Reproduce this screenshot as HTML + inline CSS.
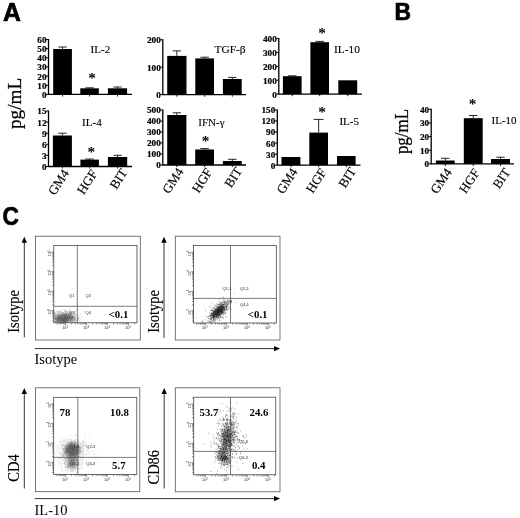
<!DOCTYPE html>
<html><head><meta charset="utf-8"><title>Figure</title>
<style>html,body{margin:0;padding:0;background:#fff}svg{display:block}</style></head><body>
<svg width="520" height="518" viewBox="0 0 520 518">
<rect width="520" height="518" fill="#fff"/>
<defs><filter id="bl" x="-5%" y="-5%" width="110%" height="110%"><feGaussianBlur stdDeviation="0.3"/></filter><filter id="b2" x="-50%" y="-50%" width="200%" height="200%"><feGaussianBlur stdDeviation="1.6"/></filter></defs>
<text transform="translate(3.0 20.5) scale(1.01 1.03)" font-family='"Liberation Sans", sans-serif' font-weight="bold" font-size="24.6" stroke="#000" stroke-width="0.7" stroke-linejoin="round">A</text>
<text transform="translate(394.45 20.45) scale(0.93 1.01)" font-family='"Liberation Sans", sans-serif' font-weight="bold" font-size="24.6" stroke="#000" stroke-width="0.7" stroke-linejoin="round">B</text>
<text transform="translate(2.4 225.2) scale(0.92 1.04)" font-family='"Liberation Sans", sans-serif' font-weight="bold" font-size="24.6" stroke="#000" stroke-width="0.7" stroke-linejoin="round">C</text>
<text transform="translate(20.5 103.4) rotate(-90)" text-anchor="middle" font-family='"Liberation Serif", serif' font-size="19.2" stroke="#000" stroke-width="0.25">pg/mL</text>
<text transform="translate(408.2 131.5) rotate(-90) scale(0.88 1)" text-anchor="middle" font-family='"Liberation Serif", serif' font-size="19.3" stroke="#000" stroke-width="0.25">pg/mL</text>
<path d="M48.5 39V94.4H132" fill="none" stroke="#000" stroke-width="1.3"/>
<path d="M46 94.4H48.5" stroke="#000" stroke-width="1"/>
<text x="46.5" y="97.8" text-anchor="end" font-family='"Liberation Serif", serif' font-weight="bold" font-size="9.2" stroke="#000" stroke-width="0.2">0</text>
<path d="M46 85.25H48.5" stroke="#000" stroke-width="1"/>
<text x="46.5" y="88.65" text-anchor="end" font-family='"Liberation Serif", serif' font-weight="bold" font-size="9.2" stroke="#000" stroke-width="0.2">10</text>
<path d="M46 76.1H48.5" stroke="#000" stroke-width="1"/>
<text x="46.5" y="79.5" text-anchor="end" font-family='"Liberation Serif", serif' font-weight="bold" font-size="9.2" stroke="#000" stroke-width="0.2">20</text>
<path d="M46 66.95H48.5" stroke="#000" stroke-width="1"/>
<text x="46.5" y="70.35" text-anchor="end" font-family='"Liberation Serif", serif' font-weight="bold" font-size="9.2" stroke="#000" stroke-width="0.2">30</text>
<path d="M46 57.8H48.5" stroke="#000" stroke-width="1"/>
<text x="46.5" y="61.2" text-anchor="end" font-family='"Liberation Serif", serif' font-weight="bold" font-size="9.2" stroke="#000" stroke-width="0.2">40</text>
<path d="M46 48.65H48.5" stroke="#000" stroke-width="1"/>
<text x="46.5" y="52.05" text-anchor="end" font-family='"Liberation Serif", serif' font-weight="bold" font-size="9.2" stroke="#000" stroke-width="0.2">50</text>
<path d="M46 39.5H48.5" stroke="#000" stroke-width="1"/>
<text x="46.5" y="42.9" text-anchor="end" font-family='"Liberation Serif", serif' font-weight="bold" font-size="9.2" stroke="#000" stroke-width="0.2">60</text>
<rect x="53.2" y="49" width="18.7" height="45.4" fill="#000"/>
<path d="M62.55 49V47M58.35 47H66.75" stroke="#000" stroke-width="0.85" fill="none"/>
<path d="M62.55 94.4V96.5" stroke="#000" stroke-width="0.9"/>
<rect x="80.3" y="88.3" width="18.5" height="6.1" fill="#000"/>
<path d="M89.55 88.3V87.8M85.35 87.8H93.75" stroke="#000" stroke-width="0.85" fill="none"/>
<path d="M89.55 94.4V96.5" stroke="#000" stroke-width="0.9"/>
<rect x="107.9" y="88.3" width="19.2" height="6.1" fill="#000"/>
<path d="M117.5 88.3V87M113.3 87H121.7" stroke="#000" stroke-width="0.85" fill="none"/>
<path d="M117.5 94.4V96.5" stroke="#000" stroke-width="0.9"/>
<text x="90.6" y="52.7" font-family='"Liberation Serif", serif' font-size="11.1" stroke="#000" stroke-width="0.12">IL-2</text>
<text x="92.2" y="82.9" text-anchor="middle" font-family='"Liberation Serif", serif' font-weight="bold" font-size="15.3">*</text>
<path d="M48.5 110.5V166.5H132" fill="none" stroke="#000" stroke-width="1.3"/>
<path d="M46 166.5H48.5" stroke="#000" stroke-width="1"/>
<text x="46.5" y="169.9" text-anchor="end" font-family='"Liberation Serif", serif' font-weight="bold" font-size="9.2" stroke="#000" stroke-width="0.2">0</text>
<path d="M46 155.4H48.5" stroke="#000" stroke-width="1"/>
<text x="46.5" y="158.8" text-anchor="end" font-family='"Liberation Serif", serif' font-weight="bold" font-size="9.2" stroke="#000" stroke-width="0.2">3</text>
<path d="M46 144.3H48.5" stroke="#000" stroke-width="1"/>
<text x="46.5" y="147.7" text-anchor="end" font-family='"Liberation Serif", serif' font-weight="bold" font-size="9.2" stroke="#000" stroke-width="0.2">6</text>
<path d="M46 133.2H48.5" stroke="#000" stroke-width="1"/>
<text x="46.5" y="136.6" text-anchor="end" font-family='"Liberation Serif", serif' font-weight="bold" font-size="9.2" stroke="#000" stroke-width="0.2">9</text>
<path d="M46 122.1H48.5" stroke="#000" stroke-width="1"/>
<text x="46.5" y="125.5" text-anchor="end" font-family='"Liberation Serif", serif' font-weight="bold" font-size="9.2" stroke="#000" stroke-width="0.2">12</text>
<path d="M46 111H48.5" stroke="#000" stroke-width="1"/>
<text x="46.5" y="114.4" text-anchor="end" font-family='"Liberation Serif", serif' font-weight="bold" font-size="9.2" stroke="#000" stroke-width="0.2">15</text>
<rect x="52.9" y="135.5" width="19" height="31" fill="#000"/>
<path d="M62.4 135.5V133.2M58.2 133.2H66.6" stroke="#000" stroke-width="0.85" fill="none"/>
<path d="M62.4 166.5V168.6" stroke="#000" stroke-width="0.9"/>
<rect x="80.4" y="159.6" width="18.5" height="6.9" fill="#000"/>
<path d="M89.65 159.6V159M85.45 159H93.85" stroke="#000" stroke-width="0.85" fill="none"/>
<path d="M89.65 166.5V168.6" stroke="#000" stroke-width="0.9"/>
<rect x="107.9" y="157" width="19.3" height="9.5" fill="#000"/>
<path d="M117.55 157V155.3M113.35 155.3H121.75" stroke="#000" stroke-width="0.85" fill="none"/>
<path d="M117.55 166.5V168.6" stroke="#000" stroke-width="0.9"/>
<text x="82" y="125.9" font-family='"Liberation Serif", serif' font-size="11.1" stroke="#000" stroke-width="0.12">IL-4</text>
<text x="91.3" y="156.9" text-anchor="middle" font-family='"Liberation Serif", serif' font-weight="bold" font-size="15.3">*</text>
<text transform="translate(69.6 173) rotate(-57)" text-anchor="end" font-family='"Liberation Serif", serif' font-size="13" stroke="#000" stroke-width="0.15">GM4</text>
<text transform="translate(97.85 173.4) rotate(-57)" text-anchor="end" font-family='"Liberation Serif", serif' font-size="13" stroke="#000" stroke-width="0.15">HGF</text>
<text transform="translate(127.85 172.4) rotate(-57)" text-anchor="end" font-family='"Liberation Serif", serif' font-size="13" stroke="#000" stroke-width="0.15">BIT</text>
<path d="M162.8 39.3V94.6H246" fill="none" stroke="#000" stroke-width="1.3"/>
<path d="M160.3 94.6H162.8" stroke="#000" stroke-width="1"/>
<text x="160.8" y="98" text-anchor="end" font-family='"Liberation Serif", serif' font-weight="bold" font-size="9.2" stroke="#000" stroke-width="0.2">0</text>
<path d="M160.3 67.2H162.8" stroke="#000" stroke-width="1"/>
<text x="160.8" y="70.6" text-anchor="end" font-family='"Liberation Serif", serif' font-weight="bold" font-size="9.2" stroke="#000" stroke-width="0.2">100</text>
<path d="M160.3 39.8H162.8" stroke="#000" stroke-width="1"/>
<text x="160.8" y="43.2" text-anchor="end" font-family='"Liberation Serif", serif' font-weight="bold" font-size="9.2" stroke="#000" stroke-width="0.2">200</text>
<rect x="167.2" y="55.9" width="19.3" height="38.7" fill="#000"/>
<path d="M176.85 55.9V50.9M172.65 50.9H181.05" stroke="#000" stroke-width="0.85" fill="none"/>
<path d="M176.85 94.6V96.7" stroke="#000" stroke-width="0.9"/>
<rect x="195.3" y="58.4" width="18.7" height="36.2" fill="#000"/>
<path d="M204.65 58.4V57.2M200.45 57.2H208.85" stroke="#000" stroke-width="0.85" fill="none"/>
<path d="M204.65 94.6V96.7" stroke="#000" stroke-width="0.9"/>
<rect x="222.9" y="79" width="18.8" height="15.6" fill="#000"/>
<path d="M232.3 79V77.4M228.1 77.4H236.5" stroke="#000" stroke-width="0.85" fill="none"/>
<path d="M232.3 94.6V96.7" stroke="#000" stroke-width="0.9"/>
<text x="214.5" y="53.1" font-family='"Liberation Serif", serif' font-size="11.4" stroke="#000" stroke-width="0.12">TGF-β</text>
<path d="M162.8 109.5V165H246" fill="none" stroke="#000" stroke-width="1.3"/>
<path d="M160.3 165H162.8" stroke="#000" stroke-width="1"/>
<text x="160.8" y="168.4" text-anchor="end" font-family='"Liberation Serif", serif' font-weight="bold" font-size="9.2" stroke="#000" stroke-width="0.2">0</text>
<path d="M160.3 154H162.8" stroke="#000" stroke-width="1"/>
<text x="160.8" y="157.4" text-anchor="end" font-family='"Liberation Serif", serif' font-weight="bold" font-size="9.2" stroke="#000" stroke-width="0.2">100</text>
<path d="M160.3 143H162.8" stroke="#000" stroke-width="1"/>
<text x="160.8" y="146.4" text-anchor="end" font-family='"Liberation Serif", serif' font-weight="bold" font-size="9.2" stroke="#000" stroke-width="0.2">200</text>
<path d="M160.3 132H162.8" stroke="#000" stroke-width="1"/>
<text x="160.8" y="135.4" text-anchor="end" font-family='"Liberation Serif", serif' font-weight="bold" font-size="9.2" stroke="#000" stroke-width="0.2">300</text>
<path d="M160.3 121H162.8" stroke="#000" stroke-width="1"/>
<text x="160.8" y="124.4" text-anchor="end" font-family='"Liberation Serif", serif' font-weight="bold" font-size="9.2" stroke="#000" stroke-width="0.2">400</text>
<path d="M160.3 110H162.8" stroke="#000" stroke-width="1"/>
<text x="160.8" y="113.4" text-anchor="end" font-family='"Liberation Serif", serif' font-weight="bold" font-size="9.2" stroke="#000" stroke-width="0.2">500</text>
<rect x="167.2" y="115" width="19.2" height="50" fill="#000"/>
<path d="M176.8 115V112.8M172.6 112.8H181" stroke="#000" stroke-width="0.85" fill="none"/>
<path d="M176.8 165V167.1" stroke="#000" stroke-width="0.9"/>
<rect x="195.2" y="149.5" width="18.8" height="15.5" fill="#000"/>
<path d="M204.6 149.5V148.6M200.4 148.6H208.8" stroke="#000" stroke-width="0.85" fill="none"/>
<path d="M204.6 165V167.1" stroke="#000" stroke-width="0.9"/>
<rect x="222.9" y="161" width="18.8" height="4" fill="#000"/>
<path d="M232.3 161V159.3M228.1 159.3H236.5" stroke="#000" stroke-width="0.85" fill="none"/>
<path d="M232.3 165V167.1" stroke="#000" stroke-width="0.9"/>
<text x="198.3" y="125.8" font-family='"Liberation Serif", serif' font-size="11" stroke="#000" stroke-width="0.12">IFN-γ</text>
<text x="205.6" y="145.5" text-anchor="middle" font-family='"Liberation Serif", serif' font-weight="bold" font-size="15.3">*</text>
<text transform="translate(184 171.5) rotate(-57)" text-anchor="end" font-family='"Liberation Serif", serif' font-size="13" stroke="#000" stroke-width="0.15">GM4</text>
<text transform="translate(212.8 171.9) rotate(-57)" text-anchor="end" font-family='"Liberation Serif", serif' font-size="13" stroke="#000" stroke-width="0.15">HGF</text>
<text transform="translate(242.6 170.9) rotate(-57)" text-anchor="end" font-family='"Liberation Serif", serif' font-size="13" stroke="#000" stroke-width="0.15">BIT</text>
<path d="M278.8 38.1V94.1H362" fill="none" stroke="#000" stroke-width="1.3"/>
<path d="M276.3 94.1H278.8" stroke="#000" stroke-width="1"/>
<text x="276.8" y="97.5" text-anchor="end" font-family='"Liberation Serif", serif' font-weight="bold" font-size="9.2" stroke="#000" stroke-width="0.2">0</text>
<path d="M276.3 80.22H278.8" stroke="#000" stroke-width="1"/>
<text x="276.8" y="83.62" text-anchor="end" font-family='"Liberation Serif", serif' font-weight="bold" font-size="9.2" stroke="#000" stroke-width="0.2">100</text>
<path d="M276.3 66.35H278.8" stroke="#000" stroke-width="1"/>
<text x="276.8" y="69.75" text-anchor="end" font-family='"Liberation Serif", serif' font-weight="bold" font-size="9.2" stroke="#000" stroke-width="0.2">200</text>
<path d="M276.3 52.48H278.8" stroke="#000" stroke-width="1"/>
<text x="276.8" y="55.88" text-anchor="end" font-family='"Liberation Serif", serif' font-weight="bold" font-size="9.2" stroke="#000" stroke-width="0.2">300</text>
<path d="M276.3 38.6H278.8" stroke="#000" stroke-width="1"/>
<text x="276.8" y="42" text-anchor="end" font-family='"Liberation Serif", serif' font-weight="bold" font-size="9.2" stroke="#000" stroke-width="0.2">400</text>
<rect x="282.9" y="76.2" width="18.7" height="17.9" fill="#000"/>
<path d="M292.25 76.2V75.8M288.05 75.8H296.45" stroke="#000" stroke-width="0.85" fill="none"/>
<path d="M292.25 94.1V96.2" stroke="#000" stroke-width="0.9"/>
<rect x="310.4" y="42.2" width="18.6" height="51.9" fill="#000"/>
<path d="M319.7 42.2V41.4M315.5 41.4H323.9" stroke="#000" stroke-width="0.85" fill="none"/>
<path d="M319.7 94.1V96.2" stroke="#000" stroke-width="0.9"/>
<rect x="338.3" y="80.3" width="18.9" height="13.8" fill="#000"/>
<path d="M347.75 94.1V96.2" stroke="#000" stroke-width="0.9"/>
<text x="334" y="52.9" font-family='"Liberation Serif", serif' font-size="11.4" stroke="#000" stroke-width="0.12">IL-10</text>
<text x="322.2" y="38.1" text-anchor="middle" font-family='"Liberation Serif", serif' font-weight="bold" font-size="15.3">*</text>
<path d="M277.3 109.5V165.2H360.5" fill="none" stroke="#000" stroke-width="1.3"/>
<path d="M274.8 165.2H277.3" stroke="#000" stroke-width="1"/>
<text x="275.3" y="168.6" text-anchor="end" font-family='"Liberation Serif", serif' font-weight="bold" font-size="9.2" stroke="#000" stroke-width="0.2">0</text>
<path d="M274.8 154.16H277.3" stroke="#000" stroke-width="1"/>
<text x="275.3" y="157.56" text-anchor="end" font-family='"Liberation Serif", serif' font-weight="bold" font-size="9.2" stroke="#000" stroke-width="0.2">30</text>
<path d="M274.8 143.12H277.3" stroke="#000" stroke-width="1"/>
<text x="275.3" y="146.52" text-anchor="end" font-family='"Liberation Serif", serif' font-weight="bold" font-size="9.2" stroke="#000" stroke-width="0.2">60</text>
<path d="M274.8 132.08H277.3" stroke="#000" stroke-width="1"/>
<text x="275.3" y="135.48" text-anchor="end" font-family='"Liberation Serif", serif' font-weight="bold" font-size="9.2" stroke="#000" stroke-width="0.2">90</text>
<path d="M274.8 121.04H277.3" stroke="#000" stroke-width="1"/>
<text x="275.3" y="124.44" text-anchor="end" font-family='"Liberation Serif", serif' font-weight="bold" font-size="9.2" stroke="#000" stroke-width="0.2">120</text>
<path d="M274.8 110H277.3" stroke="#000" stroke-width="1"/>
<text x="275.3" y="113.4" text-anchor="end" font-family='"Liberation Serif", serif' font-weight="bold" font-size="9.2" stroke="#000" stroke-width="0.2">150</text>
<rect x="281.5" y="157" width="18.9" height="8.2" fill="#000"/>
<path d="M290.95 165.2V167.3" stroke="#000" stroke-width="0.9"/>
<rect x="309.3" y="132.6" width="18.7" height="32.6" fill="#000"/>
<path d="M318.65 132.6V119.4M313.65 119.4H323.65" stroke="#000" stroke-width="0.85" fill="none"/>
<path d="M318.65 165.2V167.3" stroke="#000" stroke-width="0.9"/>
<rect x="337" y="156" width="18.6" height="9.2" fill="#000"/>
<path d="M346.3 165.2V167.3" stroke="#000" stroke-width="0.9"/>
<text x="339.4" y="125.1" font-family='"Liberation Serif", serif' font-size="11.1" stroke="#000" stroke-width="0.12">IL-5</text>
<text x="322" y="117.3" text-anchor="middle" font-family='"Liberation Serif", serif' font-weight="bold" font-size="15.3">*</text>
<text transform="translate(298.15 171.7) rotate(-57)" text-anchor="end" font-family='"Liberation Serif", serif' font-size="13" stroke="#000" stroke-width="0.15">GM4</text>
<text transform="translate(326.85 172.1) rotate(-57)" text-anchor="end" font-family='"Liberation Serif", serif' font-size="13" stroke="#000" stroke-width="0.15">HGF</text>
<text transform="translate(356.6 171.1) rotate(-57)" text-anchor="end" font-family='"Liberation Serif", serif' font-size="13" stroke="#000" stroke-width="0.15">BIT</text>
<path d="M431.2 108.8V163.9H514" fill="none" stroke="#000" stroke-width="1.3"/>
<path d="M428.7 163.9H431.2" stroke="#000" stroke-width="1"/>
<text x="429.2" y="167.3" text-anchor="end" font-family='"Liberation Serif", serif' font-weight="bold" font-size="9.2" stroke="#000" stroke-width="0.2">0</text>
<path d="M428.7 150.25H431.2" stroke="#000" stroke-width="1"/>
<text x="429.2" y="153.65" text-anchor="end" font-family='"Liberation Serif", serif' font-weight="bold" font-size="9.2" stroke="#000" stroke-width="0.2">10</text>
<path d="M428.7 136.6H431.2" stroke="#000" stroke-width="1"/>
<text x="429.2" y="140" text-anchor="end" font-family='"Liberation Serif", serif' font-weight="bold" font-size="9.2" stroke="#000" stroke-width="0.2">20</text>
<path d="M428.7 122.95H431.2" stroke="#000" stroke-width="1"/>
<text x="429.2" y="126.35" text-anchor="end" font-family='"Liberation Serif", serif' font-weight="bold" font-size="9.2" stroke="#000" stroke-width="0.2">30</text>
<path d="M428.7 109.3H431.2" stroke="#000" stroke-width="1"/>
<text x="429.2" y="112.7" text-anchor="end" font-family='"Liberation Serif", serif' font-weight="bold" font-size="9.2" stroke="#000" stroke-width="0.2">40</text>
<rect x="435.9" y="160.5" width="18.8" height="3.4" fill="#000"/>
<path d="M445.3 160.5V158.3M441.1 158.3H449.5" stroke="#000" stroke-width="0.85" fill="none"/>
<path d="M445.3 163.9V166" stroke="#000" stroke-width="0.9"/>
<rect x="463.8" y="118.2" width="18.9" height="45.7" fill="#000"/>
<path d="M473.25 118.2V115.5M469.05 115.5H477.45" stroke="#000" stroke-width="0.85" fill="none"/>
<path d="M473.25 163.9V166" stroke="#000" stroke-width="0.9"/>
<rect x="491" y="159" width="19" height="4.9" fill="#000"/>
<path d="M500.5 159V157.2M496.3 157.2H504.7" stroke="#000" stroke-width="0.85" fill="none"/>
<path d="M500.5 163.9V166" stroke="#000" stroke-width="0.9"/>
<text x="491.5" y="124" font-family='"Liberation Serif", serif' font-size="11" stroke="#000" stroke-width="0.12">IL-10</text>
<text x="472.6" y="109.1" text-anchor="middle" font-family='"Liberation Serif", serif' font-weight="bold" font-size="15.3">*</text>
<text transform="translate(452.4 172.1) rotate(-56)" text-anchor="end" font-family='"Liberation Serif", serif' font-size="13" stroke="#000" stroke-width="0.15">GM4</text>
<text transform="translate(480.35 172.6) rotate(-56)" text-anchor="end" font-family='"Liberation Serif", serif' font-size="13" stroke="#000" stroke-width="0.15">HGF</text>
<text transform="translate(510.9 172.1) rotate(-56)" text-anchor="end" font-family='"Liberation Serif", serif' font-size="13" stroke="#000" stroke-width="0.15">BIT</text>
<rect x="35.5" y="236.2" width="104.8" height="103.8" fill="#fff" stroke="#555" stroke-width="0.8"/>
<clipPath id="c1"><rect x="53.8" y="245.5" width="83.2" height="77.3"/></clipPath>
<g clip-path="url(#c1)">
<ellipse cx="64.5" cy="318.5" rx="10" ry="4.2" fill="#777" fill-opacity="0.75" transform="rotate(0 64.5 318.5)" filter="url(#b2)"/>
<ellipse cx="62" cy="320.5" rx="7" ry="2" fill="#666" fill-opacity="0.5" transform="rotate(0 62 320.5)" filter="url(#b2)"/>
</g>
<path d="M65.5 320.2h.01M67.4 317.6h.01M63.7 319.1h.01M59.7 318.3h.01M62.5 320.0h.01M59.1 318.1h.01M65.9 322.0h.01M74.2 319.4h.01M62.3 319.3h.01M61.5 319.3h.01M68.7 313.3h.01M67.8 317.5h.01M66.2 317.2h.01M59.5 318.7h.01M65.3 313.7h.01M56.8 318.3h.01M62.5 314.1h.01M57.1 317.1h.01M64.0 315.7h.01M57.3 318.3h.01M67.3 315.9h.01M66.5 319.8h.01M64.3 315.7h.01M62.0 321.1h.01M66.2 314.8h.01M55.6 316.5h.01M62.4 315.3h.01M59.1 320.5h.01M60.2 314.3h.01M72.4 316.5h.01M60.3 317.9h.01M65.3 314.9h.01M71.2 314.9h.01M61.7 316.5h.01M64.8 311.3h.01M66.2 313.4h.01M65.9 316.7h.01M57.5 318.5h.01M66.0 317.4h.01M74.3 312.3h.01M55.4 316.5h.01M71.1 320.6h.01M66.3 319.8h.01M61.3 317.7h.01M78.5 315.2h.01M70.5 320.0h.01M57.7 316.1h.01M66.0 314.3h.01M69.2 315.4h.01M69.9 318.7h.01M65.1 321.7h.01M69.8 316.5h.01M74.9 321.0h.01M61.1 316.1h.01M66.8 317.5h.01M66.3 320.5h.01M57.8 316.4h.01M61.7 317.7h.01M64.2 319.0h.01M71.3 321.9h.01M72.9 316.4h.01M56.9 312.4h.01M60.3 317.1h.01M69.7 318.0h.01M62.5 322.2h.01M64.9 319.0h.01M73.7 320.6h.01M70.0 314.5h.01M63.4 320.8h.01M63.9 320.5h.01M75.4 318.8h.01M62.7 318.5h.01M67.8 315.0h.01M64.7 317.6h.01M64.2 319.5h.01M58.3 320.4h.01M65.4 316.6h.01M62.6 319.0h.01M73.1 317.1h.01M69.7 318.4h.01M65.3 317.6h.01M69.8 314.3h.01M63.3 317.9h.01M72.3 320.8h.01M65.5 314.9h.01M69.3 317.2h.01M57.1 320.1h.01M67.8 314.6h.01M54.5 318.6h.01M63.5 321.6h.01M80.1 317.3h.01M60.1 320.4h.01M61.4 318.4h.01M66.8 318.3h.01M64.4 313.8h.01M64.2 321.4h.01M70.1 317.8h.01M58.8 318.6h.01M65.0 315.8h.01M65.7 318.9h.01M58.6 320.4h.01M67.2 318.1h.01M59.9 319.6h.01M71.8 316.3h.01M66.8 311.2h.01M66.1 320.9h.01M61.7 320.2h.01M64.7 318.5h.01M58.1 321.3h.01M67.9 316.5h.01M71.0 317.4h.01M54.2 321.8h.01M70.4 313.6h.01M60.0 321.8h.01M70.6 316.0h.01M66.4 314.5h.01M55.5 322.0h.01M73.6 317.7h.01M74.9 313.8h.01M65.1 316.9h.01M63.7 321.0h.01M64.5 321.8h.01M59.2 316.6h.01M72.6 319.3h.01M62.0 320.3h.01M65.2 315.9h.01M60.3 319.1h.01M61.4 317.9h.01M57.2 316.3h.01M73.7 316.4h.01M64.5 318.2h.01M71.8 318.1h.01M65.6 316.2h.01M61.0 316.6h.01M63.4 321.6h.01M61.9 318.7h.01M65.6 320.8h.01M63.1 321.8h.01M63.6 319.9h.01M60.3 315.4h.01M76.3 320.6h.01M61.1 317.0h.01M74.6 311.7h.01M56.0 314.9h.01M64.1 320.1h.01M61.4 320.5h.01M70.3 317.8h.01M65.3 319.5h.01M66.0 320.1h.01M60.6 317.8h.01M68.5 321.3h.01M62.0 310.8h.01M64.6 320.0h.01M58.3 314.7h.01M57.6 321.1h.01M74.2 317.3h.01M62.2 315.2h.01M67.4 319.2h.01M65.3 315.1h.01M62.6 315.1h.01M62.2 313.0h.01M69.6 317.9h.01M63.5 319.6h.01M64.5 321.3h.01M65.6 317.5h.01M73.1 321.4h.01M69.9 318.1h.01M68.0 317.7h.01M61.8 319.8h.01M56.5 321.4h.01M71.7 316.9h.01M71.8 317.2h.01M64.6 317.5h.01M69.0 318.3h.01M70.6 315.1h.01M70.9 321.3h.01M71.5 316.7h.01M62.5 319.5h.01M75.3 315.4h.01M57.4 319.1h.01M71.1 319.3h.01M68.7 316.7h.01M77.7 319.2h.01M58.1 321.1h.01M54.5 315.9h.01M70.8 316.8h.01M58.9 319.4h.01M65.4 318.2h.01M71.0 318.2h.01M54.8 317.1h.01M67.2 317.3h.01M65.8 310.9h.01M63.9 319.2h.01M65.8 315.7h.01M59.9 315.7h.01M55.7 317.3h.01M64.4 318.9h.01M59.2 313.4h.01M54.8 312.4h.01M68.8 314.6h.01M65.1 311.5h.01M68.1 314.9h.01M61.2 314.6h.01M59.0 320.1h.01M59.7 313.6h.01M66.8 319.0h.01M60.4 317.0h.01M67.8 317.8h.01M67.7 319.8h.01M56.4 318.6h.01M71.3 318.4h.01M64.9 314.9h.01M65.4 319.9h.01M56.1 317.2h.01M62.5 320.7h.01M70.3 317.9h.01M66.0 311.7h.01M63.6 317.1h.01M73.0 320.8h.01M65.4 316.9h.01M61.0 317.1h.01M74.2 321.7h.01M65.8 314.5h.01M57.9 315.2h.01M59.4 316.7h.01M72.8 321.2h.01M66.5 315.4h.01M65.8 315.8h.01M65.2 320.8h.01M65.7 320.8h.01M70.7 316.8h.01M69.1 314.4h.01M66.9 313.0h.01M58.7 315.8h.01M68.8 310.9h.01M61.1 320.4h.01M72.6 316.0h.01M57.2 319.5h.01M65.5 321.8h.01M56.9 314.3h.01M76.7 320.8h.01M75.0 321.7h.01M62.5 315.6h.01M70.5 314.9h.01M68.0 317.6h.01M65.1 310.3h.01M66.0 314.5h.01M58.5 317.1h.01M63.7 317.3h.01M64.3 318.5h.01M73.2 318.9h.01M67.7 317.3h.01M65.5 321.6h.01M75.4 311.2h.01M61.9 318.0h.01M63.0 315.7h.01M75.7 318.7h.01M71.8 315.1h.01M71.5 315.9h.01M69.8 320.5h.01M66.2 319.1h.01M66.9 315.8h.01M65.9 313.3h.01M75.3 319.0h.01M65.1 320.5h.01M61.7 318.7h.01M61.4 317.3h.01M75.9 316.3h.01M68.8 317.3h.01M65.9 316.2h.01M63.2 320.4h.01M58.3 316.7h.01M65.1 316.6h.01M71.2 314.2h.01M62.9 317.8h.01M64.0 315.1h.01M64.1 317.4h.01M66.2 321.3h.01M55.1 319.2h.01M64.0 319.6h.01M59.9 319.1h.01M71.2 318.2h.01M60.5 317.6h.01M69.3 317.0h.01M75.4 320.4h.01M63.5 314.5h.01M61.6 322.3h.01M66.7 318.1h.01M65.5 315.6h.01M59.0 316.4h.01M68.5 315.8h.01M78.6 318.5h.01M63.8 315.7h.01M64.2 321.7h.01M58.7 315.5h.01M67.6 310.7h.01M57.4 315.7h.01M58.3 311.6h.01M73.8 317.9h.01M59.6 321.4h.01M72.5 320.1h.01M75.4 313.7h.01M67.2 315.6h.01M78.2 319.0h.01M64.2 318.0h.01M61.6 321.4h.01M65.8 322.1h.01M75.1 318.4h.01M71.7 319.1h.01M59.4 320.0h.01M59.9 316.0h.01M62.2 314.6h.01M67.4 318.2h.01M64.2 315.0h.01M66.9 317.8h.01M67.4 318.3h.01M65.2 315.3h.01M66.8 317.6h.01M65.0 317.5h.01M68.8 319.4h.01M77.7 321.3h.01M69.3 316.4h.01M65.9 315.4h.01M54.5 312.7h.01M68.0 315.0h.01M56.3 318.1h.01M71.1 314.8h.01M70.1 316.8h.01M64.5 318.1h.01M54.4 319.6h.01M63.1 316.1h.01M61.1 317.2h.01M69.6 312.2h.01M80.2 314.3h.01M60.4 311.0h.01M57.9 316.9h.01M65.1 318.7h.01M64.4 316.8h.01M58.0 315.4h.01M66.3 317.8h.01M58.0 318.0h.01M72.7 317.7h.01M72.4 312.0h.01M72.6 317.5h.01M62.4 315.3h.01M68.8 316.2h.01M64.6 318.7h.01M63.0 320.1h.01M63.3 320.9h.01M57.1 316.4h.01M56.1 321.0h.01M70.7 321.8h.01M64.3 321.6h.01M66.9 322.4h.01M72.0 317.5h.01M54.2 317.4h.01M60.4 320.6h.01M66.6 313.6h.01M68.0 318.7h.01M63.0 316.3h.01M72.2 316.8h.01M66.9 312.4h.01M57.6 315.2h.01M59.5 317.9h.01M70.7 320.8h.01M68.5 321.2h.01M74.3 317.4h.01M69.4 315.3h.01M74.2 319.3h.01M63.0 317.2h.01M63.6 319.9h.01M82.0 317.9h.01M64.4 313.2h.01M75.8 315.2h.01M61.3 313.3h.01M66.6 314.2h.01M54.6 322.2h.01M63.0 318.7h.01M71.9 313.1h.01M57.4 320.1h.01M72.5 322.0h.01M67.7 316.8h.01M58.7 315.8h.01M62.2 316.9h.01M62.5 318.9h.01M65.2 320.0h.01M62.0 321.8h.01M60.1 321.9h.01M63.5 321.8h.01M58.8 322.4h.01M57.1 320.1h.01M65.2 313.1h.01M71.2 317.6h.01M55.6 319.0h.01M65.5 316.8h.01M61.3 320.9h.01M59.1 316.8h.01M71.0 315.0h.01M75.2 320.1h.01M60.4 318.7h.01M68.0 321.0h.01M64.0 321.4h.01M60.6 319.1h.01M69.3 310.1h.01M64.5 315.8h.01M69.4 316.5h.01M65.2 314.9h.01M58.4 318.6h.01M64.8 321.8h.01M65.8 316.4h.01M71.7 314.4h.01M65.2 316.6h.01M54.3 314.1h.01M69.7 318.8h.01M58.5 319.4h.01M65.1 320.5h.01M72.7 316.4h.01M55.6 315.0h.01M58.4 318.6h.01M60.7 320.5h.01M58.2 316.0h.01M68.0 319.1h.01M60.3 317.7h.01M69.3 315.7h.01M60.6 322.4h.01M68.3 317.8h.01M59.2 317.6h.01M57.6 320.3h.01M77.6 322.1h.01M63.4 319.1h.01M67.1 316.1h.01M65.3 316.3h.01M66.5 319.6h.01M65.8 319.9h.01M77.9 322.5h.01M58.7 319.3h.01M55.4 321.4h.01M56.8 318.5h.01M70.4 313.2h.01M70.8 314.2h.01M59.3 313.4h.01M63.2 315.3h.01M74.5 321.9h.01M58.5 321.2h.01M72.3 317.7h.01M58.5 317.4h.01M63.6 318.3h.01M55.7 318.6h.01M59.1 316.3h.01M74.5 317.9h.01M62.9 312.6h.01M59.8 318.8h.01M62.9 318.6h.01M65.3 320.7h.01M65.0 317.8h.01M64.9 320.5h.01M58.2 312.9h.01M65.1 321.5h.01M65.2 316.1h.01M73.9 320.0h.01M77.6 318.6h.01M64.6 309.7h.01M60.5 315.6h.01M65.1 318.7h.01M60.7 318.9h.01M65.1 318.8h.01M58.7 313.5h.01M67.1 318.1h.01M64.3 317.3h.01M60.8 312.8h.01M59.3 320.8h.01M61.9 320.3h.01M67.0 322.0h.01M65.5 319.7h.01M56.6 314.8h.01M65.9 322.3h.01M56.8 314.0h.01M61.5 317.3h.01M63.6 318.9h.01M66.1 319.3h.01M66.5 319.2h.01M64.5 315.6h.01M62.7 313.9h.01M63.1 318.2h.01M59.2 315.7h.01M63.7 313.8h.01M61.9 313.9h.01M66.1 316.4h.01M57.7 312.1h.01M67.0 313.7h.01M66.4 312.8h.01M64.6 318.6h.01M62.6 319.3h.01M54.7 313.2h.01M68.5 315.8h.01M67.1 320.9h.01M67.3 317.3h.01M68.0 317.0h.01M63.8 316.9h.01M69.6 314.3h.01M68.3 313.8h.01M66.8 319.1h.01M55.7 319.0h.01M69.0 313.6h.01M73.1 314.8h.01M72.1 319.7h.01M67.0 319.8h.01M55.4 315.9h.01M71.6 320.0h.01M64.5 319.8h.01M68.0 317.0h.01M55.8 319.3h.01M57.1 316.2h.01M61.4 311.2h.01M73.8 317.1h.01M63.1 320.4h.01M76.9 311.0h.01M64.8 314.4h.01M63.9 321.1h.01M57.3 321.9h.01M61.0 321.1h.01M68.3 318.5h.01M68.1 314.3h.01M66.2 320.0h.01M72.0 315.7h.01M60.5 309.9h.01M70.3 320.3h.01M72.5 315.1h.01M59.0 317.9h.01M54.8 314.2h.01M69.3 317.4h.01M65.1 311.0h.01M67.5 312.6h.01M54.5 318.3h.01M63.1 314.8h.01M61.6 317.5h.01M59.9 317.7h.01M63.3 322.2h.01M71.3 317.9h.01M68.0 321.9h.01M61.6 315.5h.01M65.4 316.9h.01M70.4 320.9h.01M64.7 317.1h.01M69.0 313.8h.01M69.9 318.4h.01M72.9 315.6h.01M67.5 318.7h.01M67.5 315.1h.01M70.6 314.3h.01M62.0 314.0h.01M78.2 319.5h.01M64.5 315.7h.01M65.2 320.3h.01M66.8 316.9h.01M74.2 320.6h.01M65.3 318.9h.01M75.1 318.9h.01M59.2 319.9h.01M64.3 316.1h.01M64.2 316.7h.01M70.6 312.5h.01M72.3 316.6h.01M55.7 313.4h.01M59.6 317.5h.01M67.7 314.9h.01M61.2 318.3h.01M55.6 319.5h.01M72.3 313.5h.01M68.7 315.4h.01M68.7 315.0h.01M62.4 320.4h.01M63.9 320.7h.01M72.6 316.9h.01M59.9 313.2h.01M60.9 315.9h.01M69.9 309.1h.01M66.0 314.7h.01M63.2 318.5h.01M71.5 317.3h.01M61.4 318.3h.01M62.6 313.3h.01M73.4 315.8h.01M80.1 319.5h.01M78.5 318.7h.01M65.9 321.8h.01M66.9 318.3h.01M64.7 315.7h.01M59.2 318.8h.01M66.3 311.9h.01M68.4 314.0h.01M60.1 322.3h.01M54.8 315.0h.01M56.2 319.7h.01M69.8 317.8h.01M60.6 314.7h.01M64.6 316.9h.01M66.9 316.4h.01M69.5 316.4h.01M63.3 320.4h.01M68.7 320.1h.01M59.7 316.2h.01M63.1 315.1h.01M58.8 318.9h.01M72.9 317.7h.01M65.3 321.3h.01M63.2 320.7h.01M64.1 317.9h.01M70.1 317.4h.01M55.1 315.3h.01M58.8 315.1h.01M63.0 314.8h.01M82.0 316.7h.01M71.7 316.6h.01M64.8 320.4h.01M70.1 316.7h.01M78.9 317.4h.01M64.0 314.1h.01M73.4 319.6h.01M69.9 320.6h.01M78.0 317.2h.01M76.6 320.3h.01M69.9 314.1h.01M64.2 319.3h.01M68.3 320.4h.01M69.9 322.1h.01M63.3 315.9h.01M54.5 319.3h.01M67.9 315.2h.01M60.7 315.8h.01M63.4 316.0h.01M61.6 317.5h.01M63.3 318.5h.01M73.4 313.4h.01M72.7 321.8h.01M78.4 320.4h.01M65.6 316.8h.01M59.7 319.8h.01M57.7 319.3h.01M62.2 312.5h.01M66.0 320.4h.01M67.7 311.9h.01M55.7 321.3h.01M67.4 319.2h.01M64.8 317.6h.01M65.0 314.1h.01M62.0 318.5h.01M54.6 317.4h.01M65.3 316.6h.01M77.5 318.4h.01M78.4 316.5h.01M70.1 315.0h.01M61.1 320.9h.01M74.9 313.9h.01M65.1 320.2h.01M65.1 317.7h.01M63.6 309.5h.01M66.1 318.0h.01M62.7 314.5h.01M65.0 316.5h.01M63.1 314.3h.01M80.3 314.5h.01M63.9 318.4h.01M70.1 319.1h.01M58.3 315.1h.01M64.2 317.8h.01M71.5 322.0h.01M67.3 321.1h.01M66.3 318.0h.01M75.6 318.2h.01M61.1 317.6h.01M66.0 316.1h.01M75.2 318.0h.01M61.1 316.4h.01M62.1 320.4h.01M69.8 320.1h.01M69.4 317.5h.01M74.6 315.8h.01M55.3 318.1h.01M70.4 312.5h.01M63.6 313.7h.01M61.2 320.6h.01M69.0 316.4h.01M59.5 319.2h.01M63.1 320.1h.01M55.8 318.1h.01M67.9 320.2h.01M67.5 316.8h.01M75.8 320.4h.01M64.2 319.3h.01M55.5 315.2h.01M60.6 318.2h.01M59.5 317.5h.01M57.6 311.5h.01M68.3 317.4h.01M61.3 317.1h.01M60.7 322.2h.01M63.6 313.1h.01M64.9 316.2h.01M69.9 310.6h.01M61.9 314.0h.01M57.6 317.3h.01M59.3 314.1h.01M73.9 320.6h.01M61.3 319.2h.01M66.0 311.5h.01M73.7 318.7h.01M56.3 314.8h.01M54.7 313.5h.01M56.1 317.6h.01M56.2 312.0h.01M66.8 315.3h.01M55.8 313.6h.01M65.1 318.3h.01M67.7 317.5h.01M57.3 322.2h.01M65.2 320.2h.01M79.1 310.0h.01M67.0 318.8h.01M58.1 321.0h.01M63.4 319.1h.01M55.6 321.6h.01M66.5 314.5h.01M71.9 312.7h.01M56.5 321.2h.01M62.1 312.2h.01M74.2 307.3h.01M59.4 321.6h.01M65.7 313.7h.01M54.6 315.6h.01M56.5 310.7h.01M59.3 311.0h.01M83.6 311.8h.01M60.3 315.4h.01M59.2 318.7h.01M58.9 306.7h.01M62.5 320.4h.01M69.9 311.7h.01M65.7 312.2h.01M82.5 320.1h.01M65.9 316.7h.01M77.0 310.1h.01M69.5 313.1h.01M62.9 317.9h.01M61.8 314.9h.01M71.9 313.7h.01M60.5 322.0h.01M60.1 313.6h.01M61.7 315.4h.01M67.7 318.4h.01M66.6 318.6h.01M65.3 313.3h.01M60.6 320.3h.01M58.8 311.7h.01M56.5 322.1h.01M63.5 322.4h.01M74.6 314.4h.01M54.5 314.2h.01M77.7 317.8h.01M71.6 317.1h.01M59.9 312.6h.01M71.0 319.6h.01M60.3 315.8h.01M61.1 318.4h.01M59.4 311.5h.01M64.9 319.6h.01M68.5 314.1h.01M58.1 311.7h.01M60.3 318.6h.01M54.9 321.8h.01M63.9 321.6h.01M69.1 315.7h.01M55.0 312.1h.01M56.9 321.6h.01M55.7 318.4h.01M68.0 322.1h.01M75.1 322.4h.01M59.6 320.8h.01M56.9 320.2h.01M67.1 319.3h.01M73.3 318.8h.01M67.1 318.0h.01M73.5 318.0h.01M65.2 321.5h.01M75.1 314.7h.01M63.1 316.5h.01M77.0 321.4h.01M65.5 316.6h.01M64.8 315.9h.01M61.4 315.6h.01M71.0 311.3h.01M69.8 315.6h.01M66.5 317.9h.01M63.1 312.5h.01M69.8 318.6h.01M57.1 320.0h.01M70.0 319.7h.01M58.0 318.4h.01M71.8 312.4h.01M70.2 315.8h.01M61.9 306.5h.01M71.3 319.7h.01M55.7 319.4h.01M58.4 315.0h.01M84.2 311.0h.01M57.6 318.2h.01M61.5 321.6h.01M74.7 314.7h.01M79.5 320.7h.01M57.7 315.9h.01M74.5 316.6h.01M74.0 317.0h.01" stroke="#555" stroke-opacity="0.28" stroke-width="0.9" stroke-linecap="round" fill="none" filter="url(#bl)"/>
<rect x="53.8" y="245.5" width="83.2" height="77.3" fill="none" stroke="#3a3a3a" stroke-width="0.75"/>
<path d="M77.3 245.5V322.8M53.8 306.3H137" stroke="#444" stroke-width="0.7" fill="none"/>
<path d="M53.8 320.8h-1.6M57.0 322.8v1.6M53.8 318.4h-1.6M59.1 322.8v1.6M53.8 316.5h-1.6M60.7 322.8v1.6M53.8 314.9h-1.6M62.1 322.8v1.6M53.8 313.6h-1.6M63.4 322.8v1.6M53.8 312.5h-1.6M64.4 322.8v1.6M53.8 311.5h-1.6M65.4 322.8v2.6M53.8 310.6h-2.6M71.7 322.8v1.6M53.8 304.7h-1.6M75.4 322.8v1.6M53.8 301.3h-1.6M78.0 322.8v1.6M53.8 298.9h-1.6M80.1 322.8v1.6M53.8 297.0h-1.6M81.7 322.8v1.6M53.8 295.4h-1.6M83.1 322.8v1.6M53.8 294.1h-1.6M84.4 322.8v1.6M53.8 293.0h-1.6M85.4 322.8v1.6M53.8 292.0h-1.6M86.4 322.8v2.6M53.8 291.1h-2.6M92.7 322.8v1.6M53.8 285.2h-1.6M96.4 322.8v1.6M53.8 281.8h-1.6M99.0 322.8v1.6M53.8 279.4h-1.6M101.1 322.8v1.6M53.8 277.5h-1.6M102.7 322.8v1.6M53.8 275.9h-1.6M104.1 322.8v1.6M53.8 274.6h-1.6M105.4 322.8v1.6M53.8 273.5h-1.6M106.4 322.8v1.6M53.8 272.5h-1.6M107.4 322.8v2.6M53.8 271.6h-2.6M113.7 322.8v1.6M53.8 265.7h-1.6M117.4 322.8v1.6M53.8 262.3h-1.6M120.0 322.8v1.6M53.8 259.9h-1.6M122.1 322.8v1.6M53.8 258.0h-1.6M123.7 322.8v1.6M53.8 256.4h-1.6M125.1 322.8v1.6M53.8 255.1h-1.6M126.4 322.8v1.6M53.8 254.0h-1.6M127.4 322.8v1.6M53.8 253.0h-1.6M128.4 322.8v2.6M53.8 252.1h-2.6M134.7 322.8v1.6" stroke="#333" stroke-width="0.55" fill="none"/>
<text x="65.1" y="329.1" text-anchor="middle" font-family='"Liberation Sans", sans-serif' font-size="3.8" fill="#333">10<tspan dy="-1.4" font-size="2.8">2</tspan></text>
<text transform="translate(50.9 311.8) rotate(-90)" text-anchor="middle" font-family='"Liberation Sans", sans-serif' font-size="3.8" fill="#333">10<tspan dy="-1.4" font-size="2.8">2</tspan></text>
<text x="86.1" y="329.1" text-anchor="middle" font-family='"Liberation Sans", sans-serif' font-size="3.8" fill="#333">10<tspan dy="-1.4" font-size="2.8">3</tspan></text>
<text transform="translate(50.9 292.3) rotate(-90)" text-anchor="middle" font-family='"Liberation Sans", sans-serif' font-size="3.8" fill="#333">10<tspan dy="-1.4" font-size="2.8">3</tspan></text>
<text x="107.1" y="329.1" text-anchor="middle" font-family='"Liberation Sans", sans-serif' font-size="3.8" fill="#333">10<tspan dy="-1.4" font-size="2.8">4</tspan></text>
<text transform="translate(50.9 272.8) rotate(-90)" text-anchor="middle" font-family='"Liberation Sans", sans-serif' font-size="3.8" fill="#333">10<tspan dy="-1.4" font-size="2.8">4</tspan></text>
<text x="128.1" y="329.1" text-anchor="middle" font-family='"Liberation Sans", sans-serif' font-size="3.8" fill="#333">10<tspan dy="-1.4" font-size="2.8">5</tspan></text>
<text transform="translate(50.9 253.3) rotate(-90)" text-anchor="middle" font-family='"Liberation Sans", sans-serif' font-size="3.8" fill="#333">10<tspan dy="-1.4" font-size="2.8">5</tspan></text>
<text x="71.7" y="297.4" text-anchor="middle" font-family='"Liberation Sans", sans-serif' font-size="4" fill="#222">Q1</text>
<text x="88.2" y="297.4" text-anchor="middle" font-family='"Liberation Sans", sans-serif' font-size="4" fill="#222">Q2</text>
<text x="71.7" y="314" text-anchor="middle" font-family='"Liberation Sans", sans-serif' font-size="4" fill="#222">Q3</text>
<text x="88.2" y="314" text-anchor="middle" font-family='"Liberation Sans", sans-serif' font-size="4" fill="#222">Q4</text>
<text x="118.5" y="317.9" text-anchor="middle" font-family='"Liberation Serif", serif' font-weight="bold" font-size="10.8">&lt;0.1</text>
<rect x="175.3" y="236.2" width="104.7" height="103.8" fill="#fff" stroke="#555" stroke-width="0.8"/>
<clipPath id="c2"><rect x="193.6" y="245.5" width="82.7" height="77.5"/></clipPath>
<g clip-path="url(#c2)">
<ellipse cx="218.8" cy="311.2" rx="7" ry="2.4" fill="#555" fill-opacity="0.45" transform="rotate(-44 218.8 311.2)" filter="url(#b2)"/>
</g>
<path d="M223.6 307.2h.01M219.6 311.0h.01M217.1 310.7h.01M220.1 314.8h.01M221.2 311.0h.01M216.0 315.5h.01M217.4 313.8h.01M220.3 313.1h.01M217.3 314.2h.01M219.5 312.9h.01M214.5 311.6h.01M227.7 304.2h.01M227.6 309.6h.01M219.8 308.6h.01M218.4 311.2h.01M229.1 304.2h.01M221.6 311.5h.01M219.4 312.6h.01M217.4 307.3h.01M220.8 310.8h.01M222.6 303.8h.01M217.4 309.9h.01M228.1 303.9h.01M214.8 314.1h.01M222.9 309.8h.01M219.8 320.3h.01M227.4 305.4h.01M218.6 313.7h.01M217.1 309.9h.01M221.5 306.5h.01M222.2 304.6h.01M213.5 314.6h.01M215.7 310.7h.01M212.1 315.5h.01M219.0 310.3h.01M216.8 309.9h.01M215.1 310.2h.01M213.9 311.6h.01M218.0 313.5h.01M215.9 314.2h.01M222.6 310.8h.01M226.6 307.0h.01M210.5 318.1h.01M219.4 312.8h.01M214.8 310.4h.01M224.4 313.1h.01M216.9 316.9h.01M217.9 311.4h.01M212.8 313.3h.01M222.2 309.1h.01M216.2 307.7h.01M216.9 310.5h.01M221.5 311.0h.01M217.9 312.3h.01M211.8 316.4h.01M222.7 310.5h.01M218.3 308.4h.01M218.6 312.3h.01M222.0 306.5h.01M222.4 305.1h.01M215.1 316.2h.01M214.1 312.6h.01M228.1 308.3h.01M223.6 304.7h.01M219.0 317.4h.01M212.3 314.0h.01M217.2 314.7h.01M214.9 311.2h.01M210.3 315.1h.01M219.2 311.3h.01M214.7 317.3h.01M211.9 313.8h.01M224.4 309.6h.01M214.8 312.5h.01M218.7 311.7h.01M221.9 309.4h.01M223.0 309.0h.01M214.6 309.5h.01M221.6 313.7h.01M216.4 315.3h.01M225.2 303.7h.01M219.8 307.0h.01M211.6 312.7h.01M216.6 308.9h.01M222.5 309.3h.01M220.2 308.8h.01M224.4 302.2h.01M223.5 305.0h.01M219.1 315.9h.01M217.9 311.0h.01M212.7 315.2h.01M222.0 312.5h.01M220.1 311.4h.01M229.8 300.8h.01M218.2 309.8h.01M207.9 316.8h.01M214.2 311.9h.01M218.5 310.0h.01M213.4 315.7h.01M215.9 315.2h.01M218.2 313.5h.01M220.5 310.2h.01M218.5 312.2h.01M213.6 313.0h.01M218.5 304.6h.01M215.8 312.4h.01M215.3 311.6h.01M212.2 315.5h.01M215.2 313.8h.01M219.4 306.6h.01M210.5 315.7h.01M218.4 311.3h.01M221.9 308.6h.01M216.2 311.6h.01M220.6 311.1h.01M214.0 315.2h.01M222.4 304.4h.01M223.3 307.0h.01M222.8 313.4h.01M210.7 316.9h.01M216.4 317.2h.01M224.9 309.7h.01M228.1 307.0h.01M218.7 308.7h.01M227.0 309.7h.01M216.5 313.8h.01M217.6 311.5h.01M218.4 310.8h.01M221.5 310.5h.01M212.7 317.2h.01M222.3 307.2h.01M226.2 308.2h.01M213.0 314.5h.01M211.7 314.7h.01M221.5 311.1h.01M217.3 314.9h.01M211.0 322.2h.01M220.3 306.3h.01M221.2 312.4h.01M217.7 313.9h.01M230.1 305.9h.01M217.4 308.6h.01M216.1 314.5h.01M218.8 310.3h.01M212.1 312.6h.01M214.6 313.0h.01M222.2 311.6h.01M215.8 312.6h.01M215.8 311.8h.01M226.9 306.1h.01M223.8 309.5h.01M223.6 309.7h.01M219.7 307.8h.01M220.7 309.2h.01M226.3 307.2h.01M217.7 310.2h.01M225.1 302.7h.01M216.3 316.3h.01M220.3 314.8h.01M211.4 314.7h.01M213.3 308.2h.01M218.6 306.8h.01M223.0 303.9h.01M215.9 313.6h.01M219.8 312.2h.01M217.1 312.4h.01M214.7 312.9h.01M214.3 316.1h.01M217.5 309.4h.01M211.7 317.9h.01M218.2 309.7h.01M223.2 315.6h.01M217.5 315.1h.01M213.4 313.8h.01M211.6 314.9h.01M225.6 303.2h.01M210.8 313.7h.01M223.9 303.9h.01M220.0 307.6h.01M218.7 314.1h.01M213.5 315.0h.01M221.7 305.8h.01M223.6 302.3h.01M213.2 312.9h.01M217.5 312.3h.01M222.7 306.8h.01M222.0 311.8h.01M225.9 302.4h.01M218.2 315.2h.01M221.4 309.5h.01M213.8 316.1h.01M224.0 299.7h.01M213.8 311.9h.01M211.1 321.0h.01M220.5 314.0h.01M218.6 312.1h.01M227.7 305.0h.01M216.8 311.8h.01M218.2 310.6h.01M220.1 307.8h.01M226.7 306.6h.01M219.1 312.0h.01M222.6 306.8h.01M220.4 308.6h.01M218.5 313.3h.01M219.6 311.4h.01M217.6 309.7h.01M217.9 317.6h.01M224.1 306.9h.01M213.2 316.6h.01M225.9 309.1h.01M224.3 309.2h.01M218.3 311.4h.01M216.6 315.1h.01M216.2 310.3h.01M219.7 308.3h.01M218.2 304.6h.01M221.9 312.1h.01M219.8 304.2h.01M217.6 314.5h.01M218.4 308.9h.01M210.9 315.7h.01M221.6 307.9h.01M219.8 311.0h.01M218.1 313.8h.01M226.3 309.6h.01M222.2 309.1h.01M218.0 310.1h.01M214.1 318.0h.01M223.3 307.3h.01M228.1 300.8h.01M216.6 313.1h.01M219.0 310.8h.01M218.1 312.5h.01M220.9 310.5h.01M220.6 307.9h.01M222.8 305.0h.01M216.0 316.3h.01M222.4 302.3h.01M214.1 313.8h.01M222.4 312.7h.01M219.1 302.2h.01M220.6 307.3h.01M216.1 316.0h.01M213.3 311.2h.01M221.1 317.3h.01M214.5 307.1h.01M225.7 309.1h.01M216.1 318.8h.01M222.1 310.9h.01M220.9 308.5h.01M221.6 309.6h.01M219.2 307.9h.01M226.2 306.6h.01M219.0 307.4h.01M221.8 307.4h.01M222.7 310.7h.01M224.2 302.4h.01M210.6 318.0h.01M224.2 306.5h.01M215.6 310.0h.01M219.5 314.2h.01M215.4 315.5h.01M208.9 316.0h.01M217.2 312.6h.01M214.8 312.6h.01M219.7 308.2h.01M213.0 317.1h.01M223.4 304.5h.01M221.4 311.7h.01M216.7 311.0h.01M217.5 315.6h.01M215.6 314.2h.01M215.6 317.0h.01M215.7 312.4h.01M218.0 310.3h.01M216.2 310.0h.01M214.0 317.7h.01M219.2 313.8h.01M218.6 318.2h.01M221.5 312.7h.01M226.7 304.4h.01M221.0 308.4h.01M218.2 313.1h.01M212.2 317.5h.01M215.4 319.1h.01M213.5 319.3h.01M220.4 307.0h.01M214.6 313.0h.01M221.2 313.2h.01M216.8 314.1h.01M218.8 310.5h.01M226.3 307.7h.01M215.4 313.2h.01M217.0 312.1h.01M214.8 313.6h.01M219.2 304.6h.01M216.0 316.6h.01M212.3 313.6h.01M212.3 315.7h.01M211.9 315.4h.01M221.9 310.6h.01M229.0 301.1h.01M214.8 315.1h.01M219.9 304.7h.01M219.7 310.1h.01M212.0 313.0h.01M218.2 312.8h.01M218.4 312.7h.01M216.0 313.9h.01M229.8 307.1h.01M212.0 319.5h.01M221.3 310.7h.01M220.4 310.1h.01M216.2 313.1h.01M220.9 312.2h.01M224.1 309.6h.01M217.3 308.5h.01M222.2 311.3h.01M222.4 309.4h.01M212.1 320.7h.01M225.5 306.2h.01M226.0 300.3h.01M220.9 305.4h.01M225.8 310.3h.01M213.5 317.1h.01M216.1 309.3h.01M216.1 314.9h.01M215.9 312.9h.01M219.8 304.4h.01M211.9 310.5h.01M215.7 309.1h.01M211.5 319.1h.01M218.1 311.7h.01M218.8 310.4h.01M216.4 314.4h.01M216.9 315.0h.01M223.0 300.4h.01M213.4 315.4h.01M213.2 313.9h.01M213.6 312.3h.01M222.8 305.6h.01M227.1 302.8h.01M219.7 309.5h.01M213.6 311.6h.01M216.3 312.1h.01M226.3 310.4h.01M213.4 313.0h.01M222.0 302.8h.01M224.9 306.1h.01M220.0 311.9h.01M222.1 309.5h.01M220.0 306.4h.01M226.7 306.8h.01M213.3 314.0h.01M221.7 304.7h.01M216.3 311.7h.01M215.5 314.0h.01M220.4 312.0h.01M218.9 313.1h.01M214.8 315.0h.01M213.9 319.0h.01M215.1 315.0h.01M226.1 307.0h.01M224.5 301.2h.01M218.9 306.1h.01M224.8 307.9h.01M214.5 310.9h.01M218.0 311.0h.01M219.8 309.9h.01M213.7 314.6h.01M214.1 314.3h.01M221.4 313.1h.01M213.5 308.3h.01M215.9 316.8h.01M224.0 313.5h.01M217.8 312.3h.01M222.9 307.2h.01M219.9 312.4h.01M220.5 315.4h.01M217.4 308.7h.01M218.2 312.0h.01M215.8 313.5h.01M218.1 313.7h.01M222.1 308.5h.01M222.5 309.8h.01M223.3 305.5h.01M212.1 317.9h.01M216.1 311.6h.01M216.1 311.7h.01M219.3 310.3h.01M216.8 312.7h.01M214.9 311.3h.01M224.5 310.8h.01M219.3 310.3h.01M211.9 313.4h.01M225.9 307.8h.01M221.6 306.1h.01M217.3 314.3h.01M222.1 307.9h.01M216.2 314.5h.01M223.6 307.1h.01M217.0 311.1h.01M215.6 314.4h.01M220.5 316.0h.01M212.1 310.5h.01M219.7 310.6h.01M220.2 311.2h.01M217.3 309.3h.01M214.4 311.1h.01M218.6 310.2h.01M214.5 322.0h.01M220.6 311.1h.01M223.5 306.9h.01M220.7 310.9h.01M218.2 313.8h.01M220.0 313.9h.01M219.0 312.4h.01M216.8 313.6h.01M216.7 313.8h.01M217.2 317.0h.01M224.9 307.9h.01M217.1 309.6h.01M221.6 306.4h.01M218.3 312.7h.01M218.1 309.9h.01M217.5 311.2h.01M219.1 307.8h.01M221.7 307.6h.01M220.4 311.0h.01M217.7 315.5h.01M215.7 314.2h.01M228.8 308.2h.01M217.5 312.2h.01M222.7 317.6h.01M226.3 307.2h.01M224.0 307.8h.01M220.2 308.3h.01M212.7 308.1h.01M228.0 301.8h.01M220.7 310.0h.01M224.1 312.3h.01M215.9 309.6h.01M216.1 319.9h.01M213.0 316.0h.01M221.6 310.8h.01M216.3 305.5h.01M218.1 312.4h.01M213.5 315.2h.01M214.1 317.9h.01M217.6 312.6h.01M211.1 315.0h.01M223.9 309.3h.01M224.6 307.9h.01M231.1 301.2h.01M224.0 309.5h.01M218.2 315.3h.01M215.3 314.6h.01M202.7 322.4h.01M214.2 311.2h.01M220.2 314.1h.01M223.8 308.6h.01M221.4 309.0h.01M220.5 308.2h.01M219.7 310.4h.01M221.5 308.7h.01M224.1 305.0h.01M213.4 314.2h.01M220.4 316.6h.01M213.6 317.0h.01M224.4 303.9h.01M221.9 304.0h.01M220.7 307.1h.01M215.1 317.1h.01M220.7 311.8h.01M217.5 311.8h.01M219.2 311.0h.01M217.6 311.4h.01M219.1 307.3h.01M219.3 314.9h.01M222.8 308.5h.01M223.7 314.4h.01M216.4 311.1h.01M218.1 311.4h.01M218.4 314.4h.01M221.7 307.6h.01M215.5 310.0h.01M218.5 308.5h.01M217.4 312.9h.01M213.4 317.5h.01M222.3 307.5h.01M216.1 317.0h.01M223.1 310.2h.01M221.0 310.1h.01M212.2 317.7h.01M214.6 314.5h.01M217.6 314.1h.01M217.0 315.9h.01M214.1 315.9h.01M222.5 309.1h.01M217.3 311.6h.01M218.1 307.4h.01M215.5 311.2h.01M221.3 311.3h.01M216.5 314.9h.01M221.2 313.9h.01M221.2 309.0h.01M220.4 312.5h.01M219.1 315.2h.01M216.0 317.1h.01M218.5 309.5h.01M219.9 309.6h.01M218.0 312.4h.01M214.1 312.6h.01M221.7 309.9h.01M230.4 303.2h.01M216.8 311.6h.01M223.3 313.2h.01M219.9 309.3h.01M208.1 320.8h.01M218.9 310.3h.01M214.8 312.8h.01M225.0 306.5h.01M217.8 312.2h.01M218.3 317.0h.01M218.9 313.1h.01M220.3 311.4h.01M216.2 313.0h.01M216.3 309.1h.01M213.2 316.3h.01M216.5 310.7h.01M223.4 309.8h.01M226.7 303.5h.01M224.3 311.2h.01M221.1 311.4h.01M224.9 308.0h.01M223.3 307.6h.01M225.8 305.1h.01M224.2 308.1h.01M219.8 313.2h.01M218.7 309.0h.01M220.3 311.3h.01M224.2 314.4h.01M219.5 310.3h.01M215.2 313.8h.01M209.2 318.2h.01M213.8 311.4h.01M212.5 321.0h.01M219.2 311.0h.01M219.3 311.7h.01M215.0 320.8h.01M225.6 312.7h.01M220.9 306.4h.01M220.9 312.6h.01M226.5 305.7h.01M227.0 304.6h.01M214.7 316.7h.01M222.9 307.1h.01M223.1 312.1h.01M221.5 310.6h.01M223.1 308.1h.01M217.9 316.1h.01M217.9 315.0h.01M216.2 315.2h.01M216.3 314.7h.01M221.2 314.5h.01M213.8 317.7h.01M214.4 315.1h.01M219.8 307.5h.01M218.0 310.9h.01M218.7 308.0h.01M211.4 318.7h.01M216.1 314.7h.01M213.3 310.0h.01M219.0 311.1h.01M217.5 314.6h.01M222.8 307.8h.01M217.0 309.9h.01M220.9 313.2h.01M217.7 310.0h.01M219.7 306.4h.01M215.2 311.3h.01M223.3 306.8h.01M222.2 311.0h.01M221.3 312.5h.01M219.3 311.4h.01M219.0 307.2h.01M221.8 306.2h.01M221.2 306.0h.01M220.0 309.4h.01M219.5 304.9h.01M219.5 310.9h.01M224.9 307.4h.01M218.5 311.1h.01M211.2 320.0h.01M222.7 304.4h.01M216.9 308.4h.01M213.1 314.7h.01M219.9 313.9h.01M216.9 316.3h.01M226.5 302.3h.01M222.7 311.3h.01M212.0 316.8h.01M223.4 311.6h.01M218.0 313.6h.01M225.8 303.0h.01M215.8 316.6h.01M208.5 318.7h.01M217.6 309.4h.01M215.1 310.2h.01M217.5 313.2h.01M210.1 319.4h.01M220.4 309.4h.01M224.9 304.0h.01M213.4 321.0h.01M222.8 305.9h.01M215.4 312.2h.01M230.3 304.1h.01M222.8 311.9h.01M218.6 312.5h.01M220.5 304.0h.01M220.0 308.2h.01M217.4 314.5h.01M221.7 308.5h.01M219.2 315.8h.01M209.4 315.9h.01M228.1 304.4h.01M216.4 311.5h.01M218.5 315.8h.01M220.0 309.8h.01M214.2 319.0h.01M212.3 315.4h.01M214.5 310.8h.01M214.9 311.4h.01M218.1 309.9h.01M221.7 305.1h.01M218.8 315.0h.01M222.9 311.5h.01M221.7 309.3h.01M212.8 313.7h.01M219.5 310.1h.01M213.9 313.7h.01M225.4 309.5h.01M221.1 310.0h.01M219.6 311.9h.01M212.8 315.8h.01M216.1 307.4h.01M214.5 312.9h.01M219.9 306.6h.01M218.9 312.3h.01M215.7 314.5h.01M221.2 306.3h.01M221.1 307.8h.01M218.9 316.1h.01M221.9 305.1h.01M216.1 310.8h.01M217.2 312.0h.01M218.2 309.6h.01M215.1 313.4h.01M217.9 313.8h.01M220.9 314.7h.01M222.1 302.3h.01M224.8 305.3h.01M217.8 312.3h.01M225.2 304.8h.01M218.3 311.1h.01M219.8 309.2h.01M224.0 309.4h.01M219.2 309.3h.01M228.3 301.6h.01M219.8 310.3h.01M214.1 316.0h.01M223.8 305.8h.01M218.7 314.5h.01M217.6 312.4h.01M222.8 307.2h.01M220.5 306.4h.01M220.7 306.7h.01M221.1 305.7h.01M225.9 304.9h.01M217.5 310.2h.01M220.9 305.8h.01M216.2 314.5h.01M218.2 313.4h.01M220.2 304.2h.01M223.1 312.5h.01M213.5 316.4h.01M220.1 309.6h.01M219.8 313.7h.01M215.6 314.5h.01M219.6 308.5h.01M220.7 316.4h.01M210.8 315.5h.01M214.2 315.4h.01M227.3 305.7h.01M211.0 315.3h.01M219.5 310.2h.01M221.9 309.5h.01M225.2 312.7h.01M212.4 314.5h.01M217.4 312.4h.01M220.4 311.7h.01M222.2 308.2h.01M214.3 311.7h.01M214.8 316.4h.01M223.0 307.5h.01M224.0 307.6h.01M222.1 311.6h.01M218.0 315.2h.01M221.1 310.3h.01M219.7 311.3h.01M220.4 306.1h.01M213.6 315.8h.01M219.6 311.1h.01M217.5 311.2h.01M214.5 315.7h.01M218.4 309.0h.01M221.4 313.6h.01M220.6 316.4h.01M219.8 309.0h.01M213.7 317.4h.01M218.2 311.0h.01M222.6 311.6h.01M220.6 310.8h.01M223.3 307.1h.01M213.6 315.5h.01M212.9 317.3h.01M218.2 308.6h.01M221.7 310.5h.01M226.2 301.8h.01M222.1 309.7h.01M215.5 314.8h.01M223.8 309.9h.01M215.4 314.5h.01M214.4 318.7h.01M227.8 299.5h.01M221.1 310.9h.01M221.3 308.0h.01M221.4 309.3h.01M226.2 304.3h.01M221.4 311.6h.01M220.5 303.1h.01M215.2 315.7h.01M210.8 314.1h.01M226.5 307.6h.01M221.6 302.2h.01M219.3 307.6h.01M225.3 301.2h.01M210.4 319.5h.01M215.9 309.1h.01M219.5 320.3h.01M218.5 317.0h.01M217.8 304.7h.01M213.5 310.0h.01M225.8 309.7h.01M214.9 313.5h.01M216.9 311.3h.01M216.2 315.1h.01M216.2 306.7h.01M230.5 303.6h.01M219.6 310.0h.01M219.9 312.2h.01M212.2 313.6h.01M214.5 317.6h.01M224.1 301.9h.01M213.6 320.8h.01M215.2 320.2h.01M219.3 315.0h.01M216.4 315.8h.01M230.4 302.9h.01M196.7 317.8h.01M221.8 312.3h.01M220.9 307.3h.01M211.3 318.5h.01M213.0 314.8h.01M216.3 305.8h.01M225.5 301.5h.01M213.9 318.9h.01M221.5 304.9h.01M223.9 301.1h.01M219.4 317.8h.01M202.4 321.9h.01M231.3 309.6h.01M216.5 313.2h.01M221.6 303.3h.01M219.8 314.9h.01M219.8 318.7h.01M211.1 310.6h.01M230.1 308.1h.01M225.0 303.3h.01M211.1 316.2h.01M223.6 297.8h.01M216.7 315.4h.01M212.1 322.1h.01M223.1 317.7h.01M221.4 317.3h.01M218.8 314.4h.01M214.1 314.0h.01M214.3 312.3h.01M214.1 313.7h.01M217.2 307.9h.01M212.1 315.8h.01M209.1 306.7h.01M217.1 313.3h.01M224.9 304.7h.01M226.4 316.9h.01M218.9 314.7h.01M219.3 307.7h.01M221.3 311.3h.01M220.5 302.6h.01M218.8 307.5h.01M222.9 296.9h.01M229.0 308.5h.01M218.8 313.8h.01M212.0 311.1h.01M222.4 306.9h.01M223.0 311.7h.01M218.3 313.9h.01M210.0 321.3h.01M204.7 319.8h.01M217.8 308.3h.01M222.2 308.0h.01M224.6 310.1h.01M207.9 316.9h.01M220.5 303.2h.01M217.4 318.1h.01M217.3 307.3h.01M222.7 312.6h.01M213.5 317.1h.01M216.4 317.7h.01M214.0 319.0h.01M217.6 307.1h.01M216.0 309.8h.01M224.5 308.7h.01M223.6 314.2h.01M217.5 319.3h.01M225.6 316.4h.01M216.1 315.0h.01M221.5 309.2h.01M222.0 313.0h.01M211.9 317.5h.01M217.3 311.8h.01M215.1 308.8h.01M218.3 316.4h.01M219.8 304.1h.01M228.7 303.9h.01M211.6 310.2h.01M218.4 316.9h.01M201.8 321.7h.01M219.0 315.0h.01M210.8 310.1h.01M222.3 313.6h.01M218.8 306.5h.01M213.5 316.3h.01M214.1 312.8h.01M205.8 311.1h.01M222.7 308.6h.01M209.9 321.6h.01M212.8 310.7h.01M230.2 302.7h.01M215.7 309.5h.01M217.5 306.7h.01M216.7 312.8h.01M208.9 316.7h.01M223.4 318.4h.01M215.7 305.5h.01M213.6 319.7h.01M222.1 312.8h.01M219.4 299.7h.01M219.1 301.3h.01M209.9 322.3h.01M210.6 316.1h.01M209.2 322.0h.01M226.7 309.2h.01M220.0 307.6h.01M218.7 305.2h.01M205.2 309.4h.01M211.3 319.0h.01M215.5 309.0h.01M218.9 312.3h.01M213.2 317.4h.01M214.7 307.4h.01M225.8 313.1h.01M221.7 313.7h.01M213.8 320.1h.01M202.2 320.5h.01M214.9 312.3h.01M217.0 309.6h.01M214.9 312.3h.01M212.1 311.3h.01M214.7 317.0h.01M222.2 308.6h.01M218.2 313.3h.01M216.9 309.9h.01M215.3 320.9h.01M214.4 316.0h.01M211.2 303.6h.01M210.0 315.8h.01M210.1 318.8h.01M218.2 316.5h.01M223.6 304.5h.01M217.9 310.3h.01M224.1 302.1h.01M218.5 314.6h.01M214.5 312.5h.01M207.9 318.1h.01M212.2 313.2h.01M227.2 305.5h.01M218.0 308.7h.01M217.3 303.3h.01M223.2 309.8h.01M215.6 310.1h.01M217.3 314.1h.01M219.2 312.4h.01M224.5 311.6h.01M222.9 312.3h.01M218.8 307.7h.01M217.9 310.7h.01M209.7 312.8h.01M220.4 318.0h.01M213.2 318.4h.01M227.0 310.2h.01M210.8 307.6h.01M235.3 302.9h.01M215.8 314.2h.01M211.3 318.7h.01M217.5 312.3h.01M226.6 306.6h.01M218.0 314.3h.01M216.8 304.2h.01M220.9 314.4h.01M214.0 312.6h.01M234.4 293.2h.01M222.5 316.3h.01M216.8 317.5h.01M213.8 313.8h.01M214.8 304.8h.01M220.3 310.2h.01M223.4 309.2h.01M218.1 311.0h.01M206.0 316.5h.01M218.5 306.9h.01M212.4 310.3h.01M216.4 314.2h.01M211.1 322.5h.01M216.9 318.0h.01M211.4 314.0h.01M217.9 312.8h.01M210.6 321.6h.01M216.4 310.3h.01M217.8 310.9h.01M214.4 316.0h.01M214.9 319.2h.01M221.6 305.8h.01M211.0 309.2h.01M207.9 321.2h.01M218.2 317.7h.01" stroke="#222" stroke-opacity="0.5" stroke-width="0.8" stroke-linecap="round" fill="none" filter="url(#bl)"/>
<rect x="193.6" y="245.5" width="82.7" height="77.5" fill="none" stroke="#3a3a3a" stroke-width="0.75"/>
<path d="M230.5 245.5V323M193.6 298.4H276.3" stroke="#444" stroke-width="0.7" fill="none"/>
<path d="M193.6 321.0h-1.6M196.8 323v1.6M193.6 318.6h-1.6M198.9 323v1.6M193.6 316.7h-1.6M200.5 323v1.6M193.6 315.1h-1.6M201.9 323v1.6M193.6 313.8h-1.6M203.2 323v1.6M193.6 312.7h-1.6M204.2 323v1.6M193.6 311.7h-1.6M205.2 323v2.6M193.6 310.8h-2.6M211.5 323v1.6M193.6 304.9h-1.6M215.2 323v1.6M193.6 301.5h-1.6M217.8 323v1.6M193.6 299.1h-1.6M219.9 323v1.6M193.6 297.2h-1.6M221.5 323v1.6M193.6 295.6h-1.6M222.9 323v1.6M193.6 294.3h-1.6M224.2 323v1.6M193.6 293.2h-1.6M225.2 323v1.6M193.6 292.2h-1.6M226.2 323v2.6M193.6 291.3h-2.6M232.5 323v1.6M193.6 285.4h-1.6M236.2 323v1.6M193.6 282.0h-1.6M238.8 323v1.6M193.6 279.6h-1.6M240.9 323v1.6M193.6 277.7h-1.6M242.5 323v1.6M193.6 276.1h-1.6M243.9 323v1.6M193.6 274.8h-1.6M245.2 323v1.6M193.6 273.7h-1.6M246.2 323v1.6M193.6 272.7h-1.6M247.2 323v2.6M193.6 271.8h-2.6M253.5 323v1.6M193.6 265.9h-1.6M257.2 323v1.6M193.6 262.5h-1.6M259.8 323v1.6M193.6 260.1h-1.6M261.9 323v1.6M193.6 258.2h-1.6M263.5 323v1.6M193.6 256.6h-1.6M264.9 323v1.6M193.6 255.3h-1.6M266.2 323v1.6M193.6 254.2h-1.6M267.2 323v1.6M193.6 253.2h-1.6M268.2 323v2.6M193.6 252.3h-2.6M274.5 323v1.6" stroke="#333" stroke-width="0.55" fill="none"/>
<text x="204.9" y="329.3" text-anchor="middle" font-family='"Liberation Sans", sans-serif' font-size="3.8" fill="#333">10<tspan dy="-1.4" font-size="2.8">2</tspan></text>
<text transform="translate(190.7 312) rotate(-90)" text-anchor="middle" font-family='"Liberation Sans", sans-serif' font-size="3.8" fill="#333">10<tspan dy="-1.4" font-size="2.8">2</tspan></text>
<text x="225.9" y="329.3" text-anchor="middle" font-family='"Liberation Sans", sans-serif' font-size="3.8" fill="#333">10<tspan dy="-1.4" font-size="2.8">3</tspan></text>
<text transform="translate(190.7 292.5) rotate(-90)" text-anchor="middle" font-family='"Liberation Sans", sans-serif' font-size="3.8" fill="#333">10<tspan dy="-1.4" font-size="2.8">3</tspan></text>
<text x="246.9" y="329.3" text-anchor="middle" font-family='"Liberation Sans", sans-serif' font-size="3.8" fill="#333">10<tspan dy="-1.4" font-size="2.8">4</tspan></text>
<text transform="translate(190.7 273) rotate(-90)" text-anchor="middle" font-family='"Liberation Sans", sans-serif' font-size="3.8" fill="#333">10<tspan dy="-1.4" font-size="2.8">4</tspan></text>
<text x="267.9" y="329.3" text-anchor="middle" font-family='"Liberation Sans", sans-serif' font-size="3.8" fill="#333">10<tspan dy="-1.4" font-size="2.8">5</tspan></text>
<text transform="translate(190.7 253.5) rotate(-90)" text-anchor="middle" font-family='"Liberation Sans", sans-serif' font-size="3.8" fill="#333">10<tspan dy="-1.4" font-size="2.8">5</tspan></text>
<text x="227" y="289.8" text-anchor="middle" font-family='"Liberation Sans", sans-serif' font-size="4" fill="#222">Q1-1</text>
<text x="244.5" y="289.8" text-anchor="middle" font-family='"Liberation Sans", sans-serif' font-size="4" fill="#222">Q2-1</text>
<text x="229.5" y="303" text-anchor="middle" font-family='"Liberation Sans", sans-serif' font-size="4" fill="#222">Q3</text>
<text x="244.5" y="306.3" text-anchor="middle" font-family='"Liberation Sans", sans-serif' font-size="4" fill="#222">Q4-1</text>
<text x="257.7" y="317.8" text-anchor="middle" font-family='"Liberation Serif", serif' font-weight="bold" font-size="10.8">&lt;0.1</text>
<rect x="35.5" y="387.8" width="104.3" height="103.9" fill="#fff" stroke="#555" stroke-width="0.8"/>
<clipPath id="c3"><rect x="53.7" y="397.3" width="83.1" height="77.3"/></clipPath>
<g clip-path="url(#c3)">
<ellipse cx="72.2" cy="449.8" rx="7" ry="7.5" fill="#7a7a7a" fill-opacity="0.85" transform="rotate(0 72.2 449.8)" filter="url(#b2)"/>
<ellipse cx="72.3" cy="463.5" rx="4.5" ry="6" fill="#8a8a8a" fill-opacity="0.7" transform="rotate(0 72.3 463.5)" filter="url(#b2)"/>
</g>
<path d="M82.4 455.4h.01M78.0 449.9h.01M75.6 447.4h.01M72.6 452.4h.01M69.4 445.6h.01M71.5 451.0h.01M75.2 440.0h.01M68.5 448.4h.01M76.8 447.5h.01M67.6 453.2h.01M63.8 454.8h.01M67.4 446.5h.01M64.3 458.3h.01M65.7 447.8h.01M77.7 440.7h.01M71.3 439.2h.01M73.3 458.0h.01M77.9 450.2h.01M78.3 447.5h.01M69.9 447.0h.01M78.7 445.4h.01M74.1 457.1h.01M72.3 450.2h.01M74.4 459.2h.01M65.5 449.6h.01M68.5 439.3h.01M71.8 454.7h.01M75.2 448.8h.01M70.5 449.5h.01M71.7 458.1h.01M77.0 449.3h.01M79.1 456.2h.01M76.0 450.6h.01M78.4 447.0h.01M70.4 453.0h.01M70.8 447.7h.01M73.8 456.5h.01M70.9 455.2h.01M69.9 450.9h.01M80.2 453.5h.01M71.3 453.3h.01M67.7 449.3h.01M74.6 454.9h.01M81.1 449.5h.01M72.7 453.6h.01M78.2 446.0h.01M70.2 451.1h.01M69.9 452.6h.01M69.0 446.8h.01M71.6 448.6h.01M81.1 448.1h.01M66.8 454.1h.01M80.2 447.2h.01M67.5 452.7h.01M71.2 457.9h.01M76.3 452.3h.01M75.3 442.9h.01M73.7 451.2h.01M64.4 455.6h.01M74.0 449.3h.01M67.4 456.0h.01M84.6 453.6h.01M71.3 452.7h.01M73.2 449.4h.01M66.8 448.2h.01M70.0 449.4h.01M66.1 450.9h.01M77.0 453.2h.01M71.0 452.7h.01M75.0 449.2h.01M69.0 451.0h.01M69.9 452.5h.01M78.5 442.9h.01M67.6 447.0h.01M63.7 446.8h.01M74.2 449.7h.01M66.8 449.3h.01M70.2 449.4h.01M76.7 446.5h.01M68.4 453.9h.01M76.5 452.0h.01M69.0 442.8h.01M79.5 450.7h.01M78.7 445.3h.01M70.0 458.8h.01M71.3 448.5h.01M68.3 448.8h.01M73.3 451.1h.01M77.8 449.7h.01M65.4 450.4h.01M76.7 458.1h.01M65.9 451.8h.01M68.2 454.7h.01M63.7 456.1h.01M82.4 446.0h.01M72.6 458.8h.01M73.5 454.0h.01M69.1 455.3h.01M77.4 446.5h.01M62.2 454.6h.01M72.4 452.7h.01M82.9 448.1h.01M70.5 461.6h.01M72.4 453.4h.01M75.5 449.5h.01M68.4 451.6h.01M72.4 455.1h.01M76.9 456.1h.01M73.2 453.5h.01M74.1 456.5h.01M70.6 457.7h.01M73.8 444.8h.01M72.6 448.4h.01M79.3 446.2h.01M75.8 451.2h.01M71.1 457.6h.01M60.6 453.8h.01M75.7 445.7h.01M75.9 449.3h.01M67.9 455.6h.01M62.7 448.1h.01M66.8 450.2h.01M76.7 452.2h.01M67.2 442.0h.01M70.1 454.4h.01M73.4 452.3h.01M78.2 453.4h.01M72.2 446.0h.01M71.8 447.0h.01M69.7 447.8h.01M80.1 451.9h.01M77.4 451.0h.01M71.8 451.3h.01M65.6 459.3h.01M68.5 457.0h.01M75.1 447.2h.01M68.8 447.6h.01M76.6 458.9h.01M74.0 449.2h.01M73.7 457.3h.01M75.4 458.4h.01M74.7 448.1h.01M68.2 449.4h.01M70.7 451.1h.01M83.5 446.5h.01M66.5 446.0h.01M70.0 448.8h.01M77.4 454.8h.01M71.5 448.5h.01M68.4 449.7h.01M65.9 448.5h.01M74.9 444.1h.01M77.2 457.8h.01M79.0 439.5h.01M72.6 447.6h.01M77.3 453.4h.01M67.3 444.0h.01M73.1 453.6h.01M69.0 456.7h.01M73.1 446.6h.01M75.9 451.7h.01M77.4 445.4h.01M67.5 453.1h.01M78.4 451.1h.01M70.0 451.7h.01M67.4 457.3h.01M71.5 453.0h.01M65.3 457.2h.01M72.3 453.7h.01M73.7 444.9h.01M71.3 451.9h.01M74.9 453.0h.01M70.8 443.8h.01M72.3 457.1h.01M65.4 451.0h.01M72.5 452.5h.01M68.2 446.4h.01M70.1 451.0h.01M71.9 452.1h.01M73.2 449.1h.01M64.4 451.1h.01M64.8 440.5h.01M70.9 457.2h.01M74.6 445.3h.01M74.0 440.2h.01M76.6 446.1h.01M78.5 446.7h.01M74.7 453.3h.01M72.2 446.3h.01M67.3 452.1h.01M67.8 446.1h.01M70.1 461.3h.01M73.6 453.3h.01M73.4 460.1h.01M72.3 445.8h.01M71.6 453.9h.01M75.3 446.1h.01M73.3 453.5h.01M73.7 453.9h.01M73.8 443.0h.01M69.7 445.2h.01M67.4 445.1h.01M74.7 443.5h.01M74.3 447.2h.01M71.2 446.1h.01M70.3 443.7h.01M83.2 451.1h.01M68.7 453.3h.01M71.3 444.4h.01M73.6 448.0h.01M66.8 450.7h.01M72.9 449.6h.01M80.9 447.3h.01M76.8 454.6h.01M75.3 454.7h.01M75.1 453.9h.01M72.8 449.7h.01M76.9 460.2h.01M71.6 459.0h.01M70.3 448.7h.01M72.8 450.1h.01M76.6 456.4h.01M73.9 446.8h.01M75.5 452.6h.01M62.6 450.9h.01M78.0 447.3h.01M83.5 449.5h.01M78.7 443.1h.01M70.8 448.0h.01M68.2 441.1h.01M73.6 461.6h.01M67.6 457.9h.01M75.8 456.5h.01M69.8 452.1h.01M76.9 455.4h.01M78.8 456.7h.01M62.5 455.5h.01M73.7 455.0h.01M68.9 446.3h.01M65.5 452.7h.01M69.3 448.1h.01M71.2 445.0h.01M77.3 445.2h.01M65.0 452.7h.01M77.3 455.7h.01M82.0 444.1h.01M75.2 459.0h.01M74.9 457.7h.01M72.2 448.8h.01M66.7 448.4h.01M74.9 450.3h.01M74.1 455.3h.01M75.8 448.8h.01M84.6 445.3h.01M75.8 452.3h.01M74.3 440.7h.01M79.8 451.3h.01M65.8 456.2h.01M66.8 452.1h.01M70.5 454.4h.01M69.2 453.0h.01M75.6 454.1h.01M70.8 451.3h.01M80.7 446.6h.01M79.6 449.5h.01M76.0 450.2h.01M70.4 456.6h.01M75.3 458.4h.01M76.2 452.6h.01M67.2 447.0h.01M74.0 447.1h.01M75.7 449.7h.01M73.3 457.3h.01M79.8 452.2h.01M78.1 450.3h.01M68.3 446.9h.01M72.9 454.8h.01M68.3 452.0h.01M75.1 450.4h.01M68.1 451.1h.01M76.7 458.7h.01M74.2 449.8h.01M77.0 458.7h.01M71.6 456.6h.01M65.3 450.9h.01M80.8 454.8h.01M71.5 450.0h.01M78.9 446.6h.01M74.4 449.3h.01M75.5 446.2h.01M81.1 453.1h.01M73.9 450.7h.01M79.0 453.3h.01M65.2 454.6h.01M76.5 435.6h.01M71.1 452.1h.01M71.7 442.0h.01M72.3 451.4h.01M74.0 446.4h.01M80.3 451.1h.01M63.4 457.2h.01M72.5 442.4h.01M68.9 451.5h.01M77.9 450.2h.01M70.3 441.5h.01M74.5 453.7h.01M70.4 450.8h.01M75.5 448.2h.01M77.2 447.1h.01M70.4 466.0h.01M72.5 448.7h.01M65.5 442.0h.01M73.8 446.1h.01M76.4 448.8h.01M69.6 448.8h.01M77.7 450.2h.01M62.3 445.6h.01M63.4 453.2h.01M65.6 448.3h.01M70.0 444.1h.01M72.4 446.7h.01M71.9 448.8h.01M72.0 454.7h.01M75.8 452.9h.01M70.0 449.0h.01M66.2 450.7h.01M66.3 451.6h.01M82.4 460.4h.01M61.0 447.6h.01M71.5 452.8h.01M79.3 454.1h.01M74.6 446.0h.01M68.3 451.5h.01M72.3 451.4h.01M76.4 448.3h.01M78.1 453.3h.01M68.0 455.5h.01M76.0 456.0h.01M73.5 449.7h.01M77.6 451.5h.01M79.0 461.9h.01M70.7 445.3h.01M65.3 451.7h.01M74.2 454.9h.01M80.8 451.3h.01M75.6 453.7h.01M73.4 451.4h.01M83.8 454.2h.01M67.3 456.8h.01M76.6 449.5h.01M69.6 451.5h.01M72.5 450.3h.01M72.7 448.7h.01M79.6 450.5h.01M67.8 445.2h.01M69.7 454.2h.01M64.7 458.8h.01M74.6 458.8h.01M70.1 456.7h.01M74.3 446.0h.01M67.1 457.9h.01M70.6 447.2h.01M77.3 450.3h.01M71.5 459.5h.01M75.3 445.5h.01M74.8 454.6h.01M70.6 452.0h.01M64.8 449.9h.01M77.0 446.4h.01M73.1 452.6h.01M77.0 448.4h.01M62.6 455.6h.01M64.4 456.5h.01M62.0 444.0h.01M68.1 448.2h.01M77.3 449.1h.01M75.0 444.9h.01M72.1 445.2h.01M72.9 451.0h.01M76.0 449.6h.01M70.8 442.7h.01M74.2 448.0h.01M73.0 453.1h.01M61.8 444.8h.01M70.5 446.2h.01M78.8 458.2h.01M70.4 456.9h.01M71.6 442.8h.01M69.4 444.1h.01M70.0 452.4h.01M77.7 444.9h.01M71.0 449.4h.01M67.4 448.4h.01M57.4 453.3h.01M69.6 438.5h.01M62.9 440.0h.01M63.5 444.7h.01M76.1 455.5h.01M75.7 449.9h.01M63.1 442.4h.01M76.4 453.0h.01M74.5 454.0h.01M68.5 449.4h.01M75.8 449.0h.01M64.5 452.7h.01M66.5 456.4h.01M65.4 451.3h.01M67.0 453.2h.01M76.5 450.4h.01M65.9 448.8h.01M66.8 446.2h.01M67.7 451.8h.01M73.2 449.2h.01M70.7 449.4h.01M76.4 455.1h.01M68.9 452.9h.01M66.1 454.8h.01M69.9 443.0h.01M72.5 453.3h.01M67.8 447.8h.01M73.6 446.7h.01M81.0 446.5h.01M69.5 456.4h.01M72.5 454.6h.01M78.7 447.2h.01M69.1 445.1h.01M68.2 450.7h.01M67.0 448.4h.01M74.1 458.6h.01M74.7 443.6h.01M71.5 441.8h.01M72.4 449.4h.01M78.3 450.7h.01M76.4 451.2h.01M65.5 454.2h.01M72.2 460.6h.01M72.7 449.0h.01M75.7 448.0h.01M71.1 442.2h.01M69.1 451.8h.01M70.0 454.7h.01M63.6 449.3h.01M72.0 456.3h.01M69.3 450.7h.01M74.4 457.9h.01M67.2 452.2h.01M70.1 445.5h.01M67.5 447.5h.01M67.0 443.2h.01M75.5 442.3h.01M69.9 451.9h.01M74.3 454.8h.01M66.8 460.0h.01M72.6 450.3h.01M64.0 449.5h.01M69.8 445.3h.01M69.7 455.3h.01M74.9 452.5h.01M73.0 447.7h.01M71.3 453.9h.01M76.1 453.3h.01M73.0 441.6h.01M74.7 454.2h.01M75.8 451.3h.01M71.8 448.7h.01M70.7 448.6h.01M73.7 459.0h.01M70.1 458.0h.01M73.9 459.4h.01M77.4 445.1h.01M76.2 447.5h.01M70.3 454.9h.01M65.9 444.8h.01M71.8 447.1h.01M71.5 441.9h.01M77.4 459.5h.01M70.2 455.7h.01M71.1 452.8h.01M75.6 451.7h.01M69.8 448.6h.01M71.3 448.7h.01M80.3 453.6h.01M79.2 447.2h.01M75.1 456.5h.01M73.4 448.2h.01M67.4 446.4h.01M74.7 456.8h.01M72.4 449.9h.01M73.1 453.3h.01M69.6 448.6h.01M72.0 439.8h.01M71.2 453.2h.01M73.6 444.1h.01M78.9 455.8h.01M73.8 443.2h.01M64.1 441.6h.01M67.4 452.1h.01M64.5 452.6h.01M68.3 451.1h.01M74.7 444.8h.01M74.0 454.9h.01M69.2 443.6h.01M73.3 448.4h.01M68.4 446.8h.01M65.3 448.8h.01M65.3 454.7h.01M68.0 447.6h.01M78.9 453.3h.01M65.6 453.9h.01M78.0 442.4h.01M78.4 445.0h.01M71.2 448.8h.01M71.8 447.8h.01M69.1 452.1h.01M71.9 441.3h.01M75.2 454.1h.01M72.1 454.2h.01M76.8 449.8h.01M77.7 444.0h.01M73.7 450.6h.01M73.6 448.0h.01M71.8 453.3h.01M73.7 450.2h.01M66.7 454.1h.01M74.0 448.5h.01M73.0 457.5h.01M67.9 439.5h.01M82.4 445.7h.01M67.4 453.0h.01M67.9 443.3h.01M73.4 454.1h.01M62.8 444.8h.01M68.3 451.0h.01M64.7 446.2h.01M67.4 448.5h.01M71.4 451.4h.01M73.6 450.1h.01M77.3 448.8h.01M75.9 460.9h.01M77.7 450.6h.01M74.9 445.9h.01M69.8 455.1h.01M77.4 454.5h.01M69.7 456.5h.01M69.1 459.2h.01M79.4 446.1h.01M75.8 455.7h.01M73.1 456.1h.01M75.6 450.6h.01M76.3 451.8h.01M65.5 436.2h.01M71.6 447.8h.01M66.4 459.2h.01M72.6 442.0h.01M68.8 448.0h.01M78.5 452.0h.01M74.5 453.4h.01M68.1 458.4h.01M71.9 442.1h.01M66.2 450.8h.01M72.2 454.7h.01M74.7 444.3h.01M73.3 450.4h.01M62.8 459.6h.01M70.4 456.9h.01M74.5 453.2h.01M73.5 438.1h.01M77.6 450.0h.01M65.9 452.5h.01M74.5 449.1h.01M68.9 450.3h.01M73.0 465.4h.01M74.0 449.6h.01M75.3 445.9h.01M69.3 451.8h.01M72.9 449.1h.01M66.4 449.1h.01M65.3 450.2h.01M74.7 454.3h.01M71.8 451.7h.01M64.3 444.8h.01M67.9 450.0h.01M72.1 452.9h.01M79.5 448.4h.01M77.0 456.1h.01M75.9 454.3h.01M63.5 445.8h.01M71.6 452.1h.01M74.3 460.1h.01M73.9 458.1h.01M74.0 450.3h.01M70.9 454.9h.01M80.5 447.4h.01M79.1 443.6h.01M71.6 453.3h.01M67.3 451.8h.01M81.9 453.1h.01M69.4 450.5h.01M77.8 452.2h.01M81.2 448.1h.01M67.5 452.9h.01M73.4 454.6h.01M70.4 450.3h.01M74.5 454.5h.01M73.6 442.1h.01M81.4 446.8h.01M74.9 457.5h.01M72.0 459.1h.01M77.4 451.8h.01M70.7 450.1h.01M70.3 444.5h.01M82.8 452.3h.01M68.1 454.3h.01M69.7 443.5h.01M72.2 453.3h.01M66.9 453.0h.01M61.9 452.7h.01M77.1 445.2h.01M68.3 453.2h.01M69.4 443.4h.01M70.2 457.7h.01M67.3 451.2h.01M66.9 445.0h.01M72.8 457.1h.01M83.5 456.1h.01M75.6 447.5h.01M75.6 461.2h.01M64.8 445.8h.01M71.9 452.1h.01M66.3 456.3h.01M75.7 439.7h.01M70.9 455.4h.01M72.2 450.3h.01M71.6 450.5h.01M69.2 445.4h.01M64.7 452.2h.01M74.8 445.3h.01M65.4 446.0h.01M66.3 448.5h.01M70.6 444.7h.01M68.6 458.1h.01M73.3 444.2h.01M76.9 447.0h.01M73.2 449.1h.01M73.0 450.6h.01M72.1 454.4h.01M76.1 454.5h.01M63.2 449.1h.01M73.8 448.8h.01M67.5 450.8h.01M66.1 454.5h.01M72.0 453.9h.01M70.2 448.1h.01M74.8 440.7h.01M77.3 460.9h.01M60.9 455.2h.01M71.7 451.9h.01M81.4 452.2h.01M76.2 448.1h.01M79.0 445.8h.01M72.5 449.0h.01M65.1 449.5h.01M66.6 447.6h.01M75.4 443.6h.01M76.6 449.1h.01M68.5 453.4h.01M70.7 448.2h.01M73.3 450.7h.01M63.6 440.7h.01M70.3 449.6h.01M79.8 450.0h.01M82.5 444.7h.01M71.5 442.3h.01M80.8 452.6h.01M69.5 446.7h.01M68.1 452.9h.01M61.3 448.6h.01M76.6 453.6h.01M70.2 449.0h.01M83.2 443.4h.01M73.6 450.2h.01M72.9 449.0h.01M63.3 453.8h.01M79.2 448.4h.01M70.3 448.7h.01M71.2 454.7h.01M61.4 456.2h.01M76.5 454.2h.01M76.8 455.6h.01M69.1 452.8h.01M72.5 454.3h.01M73.9 454.8h.01M76.6 452.5h.01M72.5 450.9h.01M80.3 451.3h.01M70.9 462.1h.01M69.1 450.7h.01M69.8 449.5h.01M59.8 448.9h.01M68.2 450.4h.01M76.9 451.8h.01M73.3 445.2h.01M68.1 441.1h.01M73.7 452.0h.01M62.3 442.9h.01M70.7 451.8h.01M74.6 451.3h.01M75.4 456.1h.01M68.3 458.6h.01M76.4 452.4h.01M81.0 447.9h.01M70.0 445.0h.01M75.6 446.8h.01M64.6 450.8h.01M62.6 440.7h.01M75.0 451.0h.01M72.2 450.5h.01M73.0 453.7h.01M69.2 449.0h.01M70.6 451.1h.01M75.9 447.1h.01M80.3 448.4h.01M71.0 442.1h.01M64.1 451.2h.01M78.2 458.0h.01M74.9 451.4h.01M75.3 452.4h.01M72.9 445.9h.01M83.2 457.5h.01M72.4 446.9h.01M74.5 454.4h.01M63.2 451.1h.01M69.3 446.0h.01M68.8 455.5h.01M71.9 450.7h.01M73.7 451.5h.01M68.5 452.8h.01M80.4 450.5h.01M66.9 448.8h.01M69.9 452.8h.01M73.2 448.7h.01M66.0 450.9h.01M74.8 447.4h.01M75.1 443.4h.01M70.6 447.4h.01M81.2 448.2h.01M72.4 450.7h.01M73.4 456.3h.01M67.4 442.5h.01M64.0 451.2h.01M69.0 440.0h.01M70.5 445.6h.01M69.9 448.2h.01M75.7 439.8h.01M60.6 441.7h.01M66.6 451.3h.01M63.3 451.0h.01M78.5 450.1h.01M69.3 446.7h.01M69.6 460.9h.01M66.8 449.8h.01M76.4 446.5h.01M70.1 458.7h.01M73.1 453.5h.01M62.3 448.8h.01M77.7 456.3h.01M74.0 451.4h.01M74.7 453.7h.01M78.0 451.7h.01M71.1 445.7h.01M71.3 455.3h.01M75.5 451.4h.01M74.1 445.8h.01M70.9 446.9h.01M72.3 455.2h.01M69.6 448.8h.01M75.5 450.8h.01M76.6 453.7h.01M72.1 451.2h.01M81.1 443.3h.01M64.7 453.7h.01M70.9 455.1h.01M80.3 454.8h.01M70.0 458.4h.01M64.4 452.3h.01M78.8 454.3h.01M74.7 458.2h.01M66.3 449.2h.01M75.8 458.9h.01M67.1 458.9h.01M65.6 454.4h.01M71.3 459.4h.01M69.8 454.7h.01M66.8 446.4h.01M70.3 456.1h.01M67.2 452.2h.01M72.4 452.6h.01M72.0 451.3h.01M75.7 457.1h.01M69.9 453.3h.01M65.7 447.3h.01M65.7 452.9h.01M70.9 454.1h.01M79.5 447.1h.01M76.2 448.5h.01M69.0 448.8h.01M76.6 447.7h.01M66.5 452.3h.01M76.9 455.5h.01M70.2 459.7h.01M75.8 456.3h.01M75.1 455.5h.01M70.7 456.1h.01M73.7 457.0h.01M66.9 448.8h.01M71.7 453.9h.01M77.3 452.1h.01M91.8 450.0h.01M75.5 448.4h.01M72.5 448.2h.01M67.2 449.3h.01M77.2 444.7h.01M64.1 453.1h.01M68.2 450.5h.01M73.8 451.1h.01M66.3 452.2h.01M79.5 454.1h.01M77.3 447.8h.01M69.3 450.1h.01M69.4 442.9h.01M65.7 439.9h.01M65.3 441.3h.01M74.2 458.0h.01M75.1 441.8h.01M73.8 452.9h.01M73.4 457.7h.01M69.4 448.4h.01M73.8 458.4h.01M65.0 459.5h.01M72.1 455.1h.01M79.2 462.0h.01M78.4 453.6h.01M69.8 447.1h.01M70.5 453.1h.01M78.7 448.5h.01M80.7 444.4h.01M64.9 444.5h.01M70.0 461.7h.01M73.2 448.0h.01M77.9 450.5h.01M68.0 447.4h.01M75.2 451.3h.01M70.6 449.5h.01M83.5 448.7h.01M74.2 444.8h.01M71.4 443.9h.01M70.5 447.1h.01M77.2 452.1h.01M75.4 460.6h.01M66.9 455.7h.01M73.1 459.4h.01M65.6 453.0h.01M68.4 450.3h.01M65.8 444.3h.01M65.7 450.7h.01M68.8 440.4h.01M67.4 449.2h.01M74.6 458.5h.01M75.9 452.3h.01M70.9 456.1h.01M66.7 448.9h.01M76.0 444.1h.01M62.3 448.4h.01M62.8 448.8h.01M75.6 456.5h.01M75.2 460.2h.01M76.8 447.2h.01M71.0 449.0h.01M66.0 450.0h.01M69.6 449.0h.01M74.8 444.7h.01M68.4 451.2h.01M68.7 452.5h.01M65.4 452.6h.01M66.5 444.9h.01M76.1 450.2h.01M74.3 442.4h.01M66.5 455.1h.01M66.9 445.8h.01M69.4 449.4h.01M74.7 448.6h.01M66.5 447.9h.01M71.3 445.6h.01M61.7 442.2h.01M66.0 459.1h.01M74.1 452.0h.01M76.4 452.0h.01M66.5 460.8h.01M68.4 450.3h.01M75.9 453.4h.01M70.2 450.8h.01M69.5 456.4h.01M74.6 453.2h.01M73.0 452.3h.01M77.4 449.5h.01M75.9 452.1h.01M69.3 456.3h.01M71.5 440.8h.01M71.8 450.1h.01M65.6 448.7h.01M67.4 449.3h.01M76.8 441.3h.01M64.4 454.3h.01M76.9 446.7h.01M73.5 449.7h.01M71.4 448.3h.01M74.7 442.7h.01M74.4 448.6h.01M77.9 441.9h.01M70.2 446.2h.01M71.0 449.2h.01M70.9 450.7h.01M81.2 451.0h.01M76.7 450.1h.01M67.6 461.0h.01M70.5 452.8h.01M68.7 444.9h.01M72.2 447.8h.01M73.1 447.6h.01M83.1 449.9h.01M63.3 447.9h.01M77.1 446.7h.01M74.2 458.7h.01M68.7 451.0h.01M71.4 449.1h.01M69.7 449.5h.01M72.4 449.7h.01M77.0 457.4h.01M64.8 453.1h.01M78.4 456.2h.01M70.3 435.8h.01M79.3 452.3h.01M74.1 455.8h.01M78.1 460.2h.01M74.8 450.9h.01M77.3 442.5h.01M72.4 453.6h.01M68.1 447.9h.01M75.4 442.2h.01M75.5 447.8h.01M82.2 455.8h.01M62.5 456.5h.01M71.2 454.2h.01M77.2 445.7h.01M66.1 462.9h.01M71.0 445.2h.01M82.3 450.4h.01M79.0 443.8h.01M67.9 457.1h.01M79.0 452.9h.01M77.8 455.0h.01M75.9 451.2h.01M74.0 450.5h.01M73.3 451.6h.01M68.0 441.7h.01M69.7 455.6h.01M75.7 455.2h.01M72.8 448.9h.01M81.0 450.7h.01M70.5 452.2h.01M60.6 458.3h.01M70.5 452.9h.01M73.5 451.0h.01M74.0 448.4h.01M72.5 443.6h.01M68.2 447.9h.01M79.3 451.1h.01M69.0 449.6h.01M75.6 451.2h.01M70.8 454.4h.01M66.4 452.9h.01M79.0 452.1h.01M60.1 454.0h.01M68.1 451.7h.01M74.3 450.7h.01M70.5 453.1h.01M75.8 442.5h.01M71.7 456.8h.01M70.0 444.6h.01M82.6 454.8h.01M71.1 450.9h.01M71.4 456.1h.01M67.0 451.0h.01M68.6 446.3h.01M75.3 456.0h.01M74.9 451.7h.01M72.2 451.4h.01M68.8 451.2h.01M75.5 455.6h.01M64.0 454.8h.01M70.6 451.9h.01M71.0 443.4h.01M68.1 448.9h.01M72.9 451.4h.01M69.0 459.5h.01M68.4 452.7h.01M80.9 450.4h.01M75.8 456.6h.01M78.0 450.3h.01M72.5 450.7h.01M76.9 451.6h.01M76.0 443.7h.01M78.1 455.5h.01M83.6 452.9h.01M71.2 449.5h.01M73.5 445.4h.01M72.0 451.9h.01M55.4 457.6h.01M65.5 447.8h.01M72.3 445.8h.01M75.3 452.9h.01M69.5 443.2h.01M77.7 440.2h.01M78.4 448.7h.01M70.3 447.6h.01M79.1 449.5h.01M80.7 448.2h.01M74.5 452.5h.01M67.6 449.8h.01M79.3 448.0h.01M71.5 448.7h.01M70.5 453.9h.01M72.8 455.5h.01M69.7 455.2h.01M77.4 454.2h.01M76.0 435.0h.01M78.1 446.1h.01M75.1 449.4h.01M68.5 451.9h.01M71.5 443.1h.01M76.5 457.7h.01M70.3 452.3h.01M86.3 447.9h.01M71.1 451.7h.01M69.5 449.2h.01M77.8 447.2h.01M75.9 453.3h.01M72.2 448.7h.01M71.2 444.1h.01M74.3 447.8h.01M76.3 450.3h.01M76.0 445.7h.01M70.9 456.9h.01M74.4 445.7h.01M76.4 459.3h.01M76.0 455.2h.01M57.5 446.4h.01M68.0 451.5h.01M68.6 456.6h.01M71.2 450.0h.01M73.2 445.2h.01M76.7 451.4h.01M75.3 460.5h.01M71.7 443.8h.01M72.4 453.6h.01M80.7 451.0h.01M69.4 450.3h.01M73.8 449.0h.01M79.8 449.4h.01M74.0 455.9h.01M62.5 453.8h.01M74.1 446.1h.01M70.4 458.4h.01M71.8 444.7h.01M77.3 454.1h.01M74.6 451.8h.01M71.0 456.7h.01M76.6 452.6h.01M74.4 456.0h.01M72.8 450.8h.01M73.7 455.6h.01M73.5 452.6h.01M70.7 461.3h.01M70.1 447.6h.01M72.4 456.7h.01M67.7 453.2h.01M66.3 451.8h.01M78.5 448.2h.01M71.1 453.1h.01M72.2 443.9h.01M71.7 444.4h.01M72.4 454.4h.01M72.4 443.5h.01M72.6 457.8h.01M68.4 449.6h.01M76.8 452.2h.01M69.0 451.3h.01M77.3 453.0h.01M63.1 449.6h.01M67.2 449.2h.01M76.7 456.5h.01M77.1 457.6h.01M77.7 464.4h.01M73.9 465.1h.01M71.5 459.4h.01M65.3 463.1h.01M75.0 454.7h.01M75.8 461.2h.01M70.6 467.2h.01M75.7 470.9h.01M77.7 461.9h.01M72.7 461.4h.01M76.8 465.0h.01M73.6 468.2h.01M65.0 465.1h.01M70.3 459.0h.01M70.6 464.5h.01M74.5 467.5h.01M68.7 459.2h.01M70.5 456.1h.01M68.3 465.3h.01M72.2 464.5h.01M72.6 467.5h.01M76.4 463.2h.01M75.7 459.5h.01M73.0 460.6h.01M73.3 457.6h.01M72.8 458.0h.01M72.8 459.9h.01M78.8 460.3h.01M61.9 468.3h.01M71.6 456.6h.01M73.6 462.5h.01M77.1 459.8h.01M67.7 470.1h.01M73.8 464.0h.01M75.9 460.9h.01M70.5 466.8h.01M64.3 463.1h.01M70.8 460.4h.01M67.3 470.4h.01M75.1 466.3h.01M68.8 471.4h.01M79.8 468.5h.01M72.9 466.6h.01M68.9 463.4h.01M70.2 457.4h.01M67.7 466.3h.01M74.0 463.1h.01M78.6 466.1h.01M71.4 462.7h.01M76.2 459.3h.01M68.4 457.8h.01M73.6 466.3h.01M82.0 469.2h.01M66.4 461.3h.01M77.5 465.0h.01M77.3 469.7h.01M64.4 458.6h.01M66.3 461.1h.01M68.2 457.2h.01M76.4 468.6h.01M70.5 464.1h.01M71.6 460.5h.01M75.3 454.6h.01M72.8 461.9h.01M73.3 467.7h.01M71.0 461.3h.01M77.0 460.7h.01M69.1 466.0h.01M79.4 456.7h.01M70.9 463.1h.01M69.0 465.8h.01M75.0 458.9h.01M74.2 458.7h.01M64.0 464.0h.01M73.2 462.3h.01M66.6 461.6h.01M68.8 463.8h.01M75.6 463.9h.01M68.7 458.2h.01M73.8 459.5h.01M70.7 465.0h.01M80.4 468.4h.01M71.9 469.5h.01M67.4 458.6h.01M67.7 468.2h.01M68.5 466.6h.01M72.8 462.7h.01M72.3 465.2h.01M76.4 466.9h.01M73.0 471.7h.01M72.8 457.6h.01M73.6 465.8h.01M71.7 462.1h.01M73.5 461.8h.01M75.6 468.5h.01M75.6 466.9h.01M70.0 457.8h.01M64.9 461.4h.01M68.9 464.0h.01M73.5 455.8h.01M61.8 467.1h.01M70.3 462.5h.01M74.2 463.6h.01M69.9 464.5h.01M67.6 471.8h.01M79.6 463.0h.01M78.1 461.1h.01M71.2 471.5h.01M77.8 460.4h.01M77.7 460.2h.01M67.5 456.0h.01M83.5 468.2h.01M68.3 464.2h.01M71.1 465.2h.01M67.6 463.7h.01M72.6 462.2h.01M66.7 459.0h.01M72.2 459.0h.01M76.8 465.0h.01M73.1 463.5h.01M71.1 470.9h.01M78.7 459.1h.01M68.5 460.4h.01M76.3 457.8h.01M71.0 469.7h.01M73.1 456.8h.01M72.4 466.7h.01M72.8 470.0h.01M72.0 462.2h.01M68.9 466.4h.01M69.8 452.3h.01M74.1 460.9h.01M71.8 454.7h.01M67.3 463.7h.01M69.2 462.9h.01M69.3 459.1h.01M72.0 467.5h.01M72.9 464.6h.01M72.6 460.3h.01M69.4 460.3h.01M72.3 455.6h.01M66.4 462.0h.01M60.1 473.3h.01M71.9 459.4h.01M65.2 464.9h.01M68.2 460.2h.01M67.1 466.8h.01M74.8 465.0h.01M67.1 461.7h.01M73.3 454.1h.01M70.1 460.3h.01M66.9 468.8h.01M65.5 461.7h.01M74.1 466.0h.01M73.7 460.5h.01M75.4 453.7h.01M79.8 465.0h.01M73.3 464.5h.01M73.3 460.0h.01M71.6 461.0h.01M72.5 464.3h.01M70.6 459.9h.01M68.3 464.6h.01M80.5 461.9h.01M64.3 451.2h.01M73.1 462.2h.01M73.9 459.9h.01M72.7 458.7h.01M68.0 464.9h.01M71.3 460.5h.01M70.1 465.5h.01M67.5 468.3h.01M71.9 463.6h.01M70.3 455.2h.01M69.7 459.3h.01M74.9 467.4h.01M67.6 461.6h.01M73.9 458.9h.01M69.5 462.4h.01M73.8 465.4h.01M72.3 464.2h.01M73.0 466.1h.01M67.9 458.8h.01M68.7 461.5h.01M68.4 461.6h.01M72.7 462.8h.01M75.1 452.5h.01M76.5 461.7h.01M69.9 456.3h.01M72.3 469.8h.01M65.2 470.6h.01M62.7 471.2h.01M68.3 466.9h.01M69.2 460.5h.01M65.5 467.6h.01M64.5 461.9h.01M74.2 465.9h.01M68.6 458.4h.01M64.9 460.0h.01M81.7 465.2h.01M72.7 471.7h.01M70.6 462.8h.01M74.8 474.0h.01M78.6 456.6h.01M65.5 462.8h.01M66.4 458.2h.01M71.3 462.2h.01M68.7 460.3h.01M77.8 462.6h.01M65.2 467.7h.01M68.8 467.6h.01M72.9 464.2h.01M74.3 462.9h.01M76.1 463.5h.01M73.3 463.5h.01M81.1 465.8h.01M69.9 462.9h.01M72.6 465.4h.01M75.5 456.4h.01M70.5 466.8h.01M70.6 471.6h.01M69.9 463.8h.01M69.2 455.9h.01M67.1 469.6h.01M69.5 461.3h.01M65.4 448.1h.01M73.4 461.8h.01M65.2 465.9h.01M80.5 464.8h.01M79.0 469.1h.01M76.5 466.0h.01M70.9 463.5h.01M69.4 453.2h.01M76.9 457.4h.01M72.6 463.8h.01M74.2 466.3h.01M68.8 457.9h.01M76.3 459.9h.01M68.5 465.3h.01M72.3 453.5h.01M64.6 453.3h.01M69.1 461.8h.01M73.9 464.2h.01M69.9 460.6h.01M69.9 451.6h.01M75.1 463.1h.01M71.5 456.4h.01M77.0 466.2h.01M61.7 462.4h.01M74.2 464.2h.01M73.9 466.1h.01M65.3 460.3h.01M66.4 467.0h.01M75.5 469.1h.01M67.3 464.9h.01M69.1 469.5h.01M74.3 459.8h.01M70.4 467.5h.01M73.8 464.3h.01M68.2 458.1h.01M73.0 462.6h.01M76.3 460.3h.01M73.1 460.2h.01M62.6 463.4h.01M74.5 468.2h.01M72.0 461.4h.01M68.0 463.6h.01M77.6 455.7h.01M64.5 463.5h.01M79.6 468.7h.01M69.1 467.0h.01M78.4 465.3h.01M71.6 460.3h.01M66.2 458.1h.01M72.2 462.5h.01M73.2 456.3h.01M74.0 456.8h.01M76.2 467.6h.01M68.0 458.4h.01M73.8 471.8h.01M74.9 455.9h.01M70.6 465.1h.01M67.9 457.1h.01M67.8 463.8h.01M74.9 457.8h.01M75.1 463.1h.01M68.3 462.2h.01M66.2 460.7h.01M77.0 465.5h.01M65.3 470.4h.01M72.4 460.0h.01M68.4 467.3h.01M64.4 463.4h.01M72.3 462.8h.01M71.0 473.8h.01M77.8 452.2h.01M81.3 459.6h.01M71.0 454.0h.01M76.1 461.4h.01M76.1 461.8h.01M68.1 464.7h.01M78.5 471.8h.01M70.2 469.4h.01M71.7 460.8h.01M70.5 465.3h.01M71.2 471.2h.01M69.2 463.8h.01M74.9 464.0h.01M77.0 465.4h.01M70.2 455.5h.01M66.0 458.9h.01M72.0 464.6h.01M65.5 465.6h.01M69.1 458.4h.01M76.9 461.3h.01M81.5 462.3h.01M73.3 462.2h.01M67.3 466.4h.01M75.0 463.5h.01M62.4 463.8h.01M68.9 455.9h.01M78.1 457.7h.01M74.9 464.5h.01M66.0 455.0h.01M64.8 464.3h.01M75.3 459.7h.01M71.6 458.9h.01M69.3 466.1h.01M73.5 459.6h.01M69.4 458.7h.01M63.7 459.6h.01M75.1 463.2h.01M67.6 452.4h.01M66.2 462.8h.01M72.8 461.7h.01M68.4 467.6h.01M74.4 461.1h.01M70.6 450.6h.01M76.3 469.5h.01M70.2 457.5h.01M69.0 462.6h.01M63.5 456.1h.01M67.2 457.5h.01M74.8 460.4h.01M76.6 473.8h.01M76.5 472.7h.01M65.1 446.8h.01M73.8 451.3h.01M66.9 445.5h.01M70.7 446.6h.01M71.0 460.1h.01M74.7 448.0h.01M64.9 447.5h.01M68.8 453.6h.01M71.5 462.1h.01M70.5 453.0h.01M63.5 453.0h.01M83.5 463.0h.01M66.1 459.5h.01M75.8 459.3h.01M71.4 463.2h.01M79.5 447.8h.01M86.1 450.8h.01M68.1 463.8h.01M60.0 462.2h.01M70.8 447.6h.01M87.7 466.3h.01M73.8 446.6h.01M60.0 465.0h.01M66.1 457.4h.01M80.4 448.9h.01M58.6 447.0h.01M68.3 453.4h.01M67.4 455.6h.01M87.0 450.2h.01M67.4 460.2h.01M80.2 444.7h.01M64.4 455.7h.01M63.4 455.8h.01M77.7 441.0h.01M74.7 458.2h.01M56.0 445.8h.01M74.8 436.1h.01M74.9 450.9h.01M64.9 454.0h.01M71.5 462.9h.01M71.9 451.9h.01M65.9 467.4h.01M65.1 467.1h.01M64.4 464.4h.01M67.6 466.2h.01M59.2 458.5h.01M69.4 451.4h.01M57.9 460.9h.01M70.3 463.4h.01M69.1 457.6h.01M61.5 453.8h.01M76.5 443.4h.01M85.1 461.1h.01M80.3 458.5h.01M58.9 445.5h.01M79.9 456.5h.01M71.5 461.5h.01M69.3 454.9h.01M65.0 461.9h.01M69.7 461.7h.01M80.8 444.1h.01M74.1 453.4h.01M66.4 459.6h.01M64.4 463.0h.01M66.4 466.9h.01M74.4 440.6h.01M84.5 455.2h.01M61.3 461.4h.01M69.7 465.4h.01M66.7 469.1h.01M63.8 448.4h.01M72.9 452.8h.01M74.1 447.4h.01M58.5 462.2h.01M61.5 445.3h.01M79.2 465.1h.01M72.2 463.2h.01M73.9 459.6h.01M65.7 438.6h.01M66.7 450.4h.01M73.4 461.7h.01M65.8 444.6h.01M60.9 453.9h.01M69.7 454.9h.01M76.9 462.8h.01M61.6 458.0h.01M78.1 457.9h.01M75.3 452.3h.01M62.9 455.8h.01M69.8 454.7h.01M69.4 461.5h.01M74.7 454.3h.01M75.0 463.9h.01M59.4 442.3h.01M59.0 465.2h.01M77.9 454.4h.01M70.6 464.7h.01M73.0 456.4h.01M72.4 462.5h.01M81.9 467.6h.01M60.2 451.4h.01M78.4 456.4h.01M63.2 454.4h.01M75.5 457.4h.01M80.3 442.9h.01M58.8 454.4h.01M72.9 453.8h.01M67.5 449.5h.01M67.4 454.2h.01M70.1 443.6h.01M61.4 466.8h.01M62.1 459.3h.01M74.9 470.6h.01M76.4 448.8h.01M65.2 446.5h.01M58.2 458.0h.01M88.1 442.6h.01M78.4 457.5h.01M72.6 450.2h.01M61.6 453.1h.01M65.1 457.7h.01M71.6 456.1h.01M62.1 470.4h.01M82.4 460.7h.01M70.8 445.5h.01M72.8 463.5h.01M61.6 445.1h.01M62.6 456.4h.01M63.5 445.9h.01M71.9 449.2h.01M67.6 466.1h.01M67.4 451.3h.01M72.2 450.6h.01M71.5 451.3h.01M81.4 453.2h.01M68.2 467.1h.01M61.7 446.4h.01M69.6 445.9h.01M81.3 460.3h.01M65.4 443.1h.01M70.1 452.8h.01M66.9 464.6h.01M72.9 455.7h.01M71.8 451.9h.01M63.3 450.1h.01M67.9 448.4h.01M77.1 451.0h.01M78.4 456.8h.01M77.0 465.5h.01M76.5 463.3h.01M67.1 451.2h.01M66.9 449.9h.01M77.0 461.2h.01M60.5 441.3h.01M69.3 452.2h.01M55.1 453.1h.01M66.7 446.9h.01M64.2 447.8h.01M60.3 458.4h.01M74.3 442.5h.01M64.0 448.4h.01M66.8 450.5h.01M67.7 456.2h.01M63.9 444.8h.01M80.9 464.2h.01M65.9 453.1h.01M71.3 453.5h.01M59.5 452.7h.01M66.0 450.2h.01M67.2 447.8h.01M67.3 464.6h.01M65.1 457.1h.01M70.9 454.7h.01M82.0 463.4h.01M68.7 449.9h.01M68.6 460.5h.01M66.7 455.7h.01M89.7 448.5h.01M82.4 461.5h.01M74.1 443.7h.01M75.3 460.6h.01M64.2 448.5h.01M68.5 458.7h.01M71.4 466.3h.01M70.7 459.9h.01M63.0 450.7h.01M63.6 455.2h.01M73.8 452.5h.01M72.2 446.2h.01M70.5 455.8h.01M79.7 459.6h.01M64.7 441.5h.01M71.6 454.8h.01M58.3 459.4h.01M76.3 456.2h.01M61.0 447.5h.01M59.9 463.5h.01M67.3 445.8h.01M88.4 460.5h.01M65.0 467.9h.01M59.8 439.3h.01M73.4 457.4h.01M71.6 457.8h.01M82.8 457.1h.01M59.8 449.3h.01M57.2 452.9h.01M67.3 444.3h.01M72.7 456.3h.01M72.6 459.5h.01M78.3 450.1h.01M58.0 448.0h.01M63.3 451.6h.01M68.7 455.2h.01M76.3 455.8h.01M73.5 454.5h.01M66.5 455.8h.01M61.7 445.0h.01M76.7 433.8h.01M77.2 460.1h.01M91.0 466.4h.01M68.4 444.1h.01M82.5 450.0h.01M60.3 457.6h.01M65.5 462.7h.01M64.5 460.3h.01M66.1 465.3h.01M62.9 454.8h.01M65.5 458.5h.01M69.3 458.5h.01M66.2 451.8h.01M74.9 464.7h.01M69.1 460.1h.01M69.8 462.9h.01M81.3 452.2h.01M72.2 463.3h.01M71.0 447.0h.01M69.6 458.3h.01M70.3 434.7h.01M74.3 447.3h.01M63.5 461.0h.01M78.7 451.7h.01M82.1 456.6h.01M78.8 442.5h.01M65.9 467.3h.01M57.3 459.9h.01M66.3 455.0h.01M71.0 458.5h.01M76.3 457.8h.01M68.3 466.3h.01M67.4 456.9h.01M81.7 443.7h.01M64.5 453.2h.01M78.1 465.3h.01M76.9 459.7h.01M59.3 451.9h.01M71.9 460.0h.01M65.4 456.1h.01M62.3 460.0h.01M55.3 442.8h.01M57.5 448.2h.01M73.0 460.4h.01M66.7 453.5h.01M71.9 458.0h.01M61.4 470.5h.01M67.3 452.8h.01M67.6 457.1h.01M57.7 450.8h.01M56.7 450.3h.01M73.2 454.6h.01M70.9 443.8h.01M62.5 438.7h.01M69.0 465.9h.01M75.0 454.4h.01M84.1 464.0h.01M62.8 456.2h.01M74.6 456.4h.01M86.4 460.4h.01M70.3 460.8h.01M81.3 445.8h.01M81.1 447.6h.01M69.7 456.8h.01M75.9 455.8h.01M78.0 468.2h.01M79.2 452.5h.01M79.2 460.0h.01M69.5 455.6h.01M63.9 458.5h.01M66.2 448.5h.01M69.5 448.0h.01M72.9 457.8h.01M66.0 443.0h.01M70.1 448.6h.01M76.6 460.2h.01M72.3 450.4h.01M76.3 459.5h.01M74.6 457.6h.01M84.4 438.8h.01M80.4 456.6h.01M84.4 445.3h.01M81.7 458.8h.01M97.7 452.3h.01M79.8 448.0h.01M67.9 453.5h.01M84.1 444.1h.01M83.2 450.9h.01M84.4 451.3h.01M70.7 447.3h.01M92.1 451.3h.01M83.0 440.8h.01M82.9 452.7h.01M70.9 439.2h.01M86.9 453.2h.01M82.7 452.0h.01M93.8 453.8h.01M80.0 444.2h.01M73.6 471.6h.01M84.2 446.7h.01M76.1 449.6h.01M86.5 442.7h.01M74.8 459.4h.01M82.2 444.9h.01M81.5 456.0h.01M83.0 441.3h.01M79.2 450.9h.01M76.9 445.7h.01M82.8 455.6h.01M78.7 446.3h.01M84.4 442.0h.01M81.1 452.0h.01M65.7 439.5h.01M82.7 441.3h.01M94.0 454.4h.01M85.6 434.3h.01M87.9 454.3h.01M86.8 445.5h.01M79.6 441.6h.01M72.9 450.4h.01M89.5 453.4h.01M91.4 444.2h.01M87.6 447.3h.01M86.5 454.7h.01M86.3 454.3h.01M83.0 448.2h.01M85.3 442.8h.01M83.3 441.5h.01M85.7 444.1h.01M75.9 453.8h.01M78.3 453.0h.01M87.6 451.0h.01M80.6 459.2h.01M64.5 446.4h.01M84.2 445.8h.01M65.6 445.8h.01M98.0 463.1h.01M88.8 433.1h.01M88.4 450.9h.01M78.1 452.1h.01M74.5 449.2h.01M81.6 466.4h.01M83.4 457.6h.01M77.3 454.6h.01M84.5 442.0h.01M88.5 452.5h.01M87.9 446.0h.01M75.3 449.1h.01M66.6 450.3h.01M83.3 445.1h.01M78.2 453.6h.01M86.7 461.1h.01M95.9 456.6h.01M95.9 450.4h.01M85.5 434.2h.01M91.8 457.0h.01M95.9 456.9h.01M83.6 447.4h.01M85.4 445.2h.01M89.8 453.8h.01M83.0 442.8h.01M79.5 454.9h.01M77.5 440.7h.01M83.4 441.9h.01M78.5 449.0h.01M89.4 437.9h.01M80.8 448.9h.01" stroke="#555" stroke-opacity="0.22" stroke-width="0.9" stroke-linecap="round" fill="none" filter="url(#bl)"/>
<rect x="53.7" y="397.3" width="83.1" height="77.3" fill="none" stroke="#3a3a3a" stroke-width="0.75"/>
<path d="M77.8 397.3V474.6M53.7 457.4H136.8" stroke="#444" stroke-width="0.7" fill="none"/>
<path d="M53.7 472.6h-1.6M56.9 474.6v1.6M53.7 470.2h-1.6M59.0 474.6v1.6M53.7 468.3h-1.6M60.6 474.6v1.6M53.7 466.7h-1.6M62.0 474.6v1.6M53.7 465.4h-1.6M63.3 474.6v1.6M53.7 464.3h-1.6M64.3 474.6v1.6M53.7 463.3h-1.6M65.3 474.6v2.6M53.7 462.4h-2.6M71.6 474.6v1.6M53.7 456.5h-1.6M75.3 474.6v1.6M53.7 453.1h-1.6M77.9 474.6v1.6M53.7 450.7h-1.6M80.0 474.6v1.6M53.7 448.8h-1.6M81.6 474.6v1.6M53.7 447.2h-1.6M83.0 474.6v1.6M53.7 445.9h-1.6M84.3 474.6v1.6M53.7 444.8h-1.6M85.3 474.6v1.6M53.7 443.8h-1.6M86.3 474.6v2.6M53.7 442.9h-2.6M92.6 474.6v1.6M53.7 437.0h-1.6M96.3 474.6v1.6M53.7 433.6h-1.6M98.9 474.6v1.6M53.7 431.2h-1.6M101.0 474.6v1.6M53.7 429.3h-1.6M102.6 474.6v1.6M53.7 427.7h-1.6M104.0 474.6v1.6M53.7 426.4h-1.6M105.3 474.6v1.6M53.7 425.3h-1.6M106.3 474.6v1.6M53.7 424.3h-1.6M107.3 474.6v2.6M53.7 423.4h-2.6M113.6 474.6v1.6M53.7 417.5h-1.6M117.3 474.6v1.6M53.7 414.1h-1.6M119.9 474.6v1.6M53.7 411.7h-1.6M122.0 474.6v1.6M53.7 409.8h-1.6M123.6 474.6v1.6M53.7 408.2h-1.6M125.0 474.6v1.6M53.7 406.9h-1.6M126.3 474.6v1.6M53.7 405.8h-1.6M127.3 474.6v1.6M53.7 404.8h-1.6M128.3 474.6v2.6M53.7 403.9h-2.6M134.6 474.6v1.6" stroke="#333" stroke-width="0.55" fill="none"/>
<text x="65" y="480.9" text-anchor="middle" font-family='"Liberation Sans", sans-serif' font-size="3.8" fill="#333">10<tspan dy="-1.4" font-size="2.8">2</tspan></text>
<text transform="translate(50.8 463.6) rotate(-90)" text-anchor="middle" font-family='"Liberation Sans", sans-serif' font-size="3.8" fill="#333">10<tspan dy="-1.4" font-size="2.8">2</tspan></text>
<text x="86" y="480.9" text-anchor="middle" font-family='"Liberation Sans", sans-serif' font-size="3.8" fill="#333">10<tspan dy="-1.4" font-size="2.8">3</tspan></text>
<text transform="translate(50.8 444.1) rotate(-90)" text-anchor="middle" font-family='"Liberation Sans", sans-serif' font-size="3.8" fill="#333">10<tspan dy="-1.4" font-size="2.8">3</tspan></text>
<text x="107" y="480.9" text-anchor="middle" font-family='"Liberation Sans", sans-serif' font-size="3.8" fill="#333">10<tspan dy="-1.4" font-size="2.8">4</tspan></text>
<text transform="translate(50.8 424.6) rotate(-90)" text-anchor="middle" font-family='"Liberation Sans", sans-serif' font-size="3.8" fill="#333">10<tspan dy="-1.4" font-size="2.8">4</tspan></text>
<text x="128" y="480.9" text-anchor="middle" font-family='"Liberation Sans", sans-serif' font-size="3.8" fill="#333">10<tspan dy="-1.4" font-size="2.8">5</tspan></text>
<text transform="translate(50.8 405.1) rotate(-90)" text-anchor="middle" font-family='"Liberation Sans", sans-serif' font-size="3.8" fill="#333">10<tspan dy="-1.4" font-size="2.8">5</tspan></text>
<text x="74.5" y="448.4" text-anchor="middle" font-family='"Liberation Sans", sans-serif' font-size="4" fill="#222">Q1-3</text>
<text x="90.8" y="448.4" text-anchor="middle" font-family='"Liberation Sans", sans-serif' font-size="4" fill="#222">Q2-3</text>
<text x="74.5" y="464.8" text-anchor="middle" font-family='"Liberation Sans", sans-serif' font-size="4" fill="#222">Q3-3</text>
<text x="90.8" y="464.8" text-anchor="middle" font-family='"Liberation Sans", sans-serif' font-size="4" fill="#222">Q4-3</text>
<text x="65" y="416.3" text-anchor="middle" font-family='"Liberation Serif", serif' font-weight="bold" font-size="10.8">78</text>
<text x="119.5" y="416.3" text-anchor="middle" font-family='"Liberation Serif", serif' font-weight="bold" font-size="10.8">10.8</text>
<text x="118.8" y="469.3" text-anchor="middle" font-family='"Liberation Serif", serif' font-weight="bold" font-size="10.8">5.7</text>
<rect x="175.3" y="387.8" width="104.7" height="104" fill="#fff" stroke="#555" stroke-width="0.8"/>
<clipPath id="c4"><rect x="193.7" y="397.2" width="82.1" height="77.6"/></clipPath>
<g clip-path="url(#c4)">
<ellipse cx="226.8" cy="440" rx="3.5" ry="12" fill="#555" fill-opacity="0.4" transform="rotate(8 226.8 440)" filter="url(#b2)"/>
<ellipse cx="223.5" cy="457" rx="3" ry="4.5" fill="#555" fill-opacity="0.35" transform="rotate(-25 223.5 457)" filter="url(#b2)"/>
</g>
<path d="M226.7 453.5h.01M218.2 460.3h.01M232.4 424.7h.01M226.4 423.8h.01M228.3 443.2h.01M228.0 435.1h.01M226.3 428.1h.01M224.1 441.7h.01M221.0 429.5h.01M227.1 415.3h.01M223.7 437.6h.01M233.1 440.4h.01M229.9 445.1h.01M219.9 446.8h.01M229.7 440.5h.01M227.9 436.0h.01M226.1 431.4h.01M230.9 422.1h.01M230.5 434.3h.01M223.1 447.8h.01M224.7 444.5h.01M224.5 458.7h.01M223.0 436.2h.01M230.0 420.6h.01M225.3 446.4h.01M222.6 448.1h.01M225.0 426.2h.01M230.2 422.4h.01M230.0 440.2h.01M227.1 445.5h.01M224.9 426.6h.01M230.2 435.3h.01M228.5 430.6h.01M230.8 426.8h.01M233.2 425.8h.01M223.0 439.1h.01M226.7 434.4h.01M225.3 431.2h.01M226.9 411.8h.01M232.3 456.7h.01M231.8 429.3h.01M219.9 435.8h.01M230.0 427.1h.01M224.0 441.6h.01M233.4 423.8h.01M227.0 439.2h.01M226.3 436.2h.01M226.1 447.4h.01M229.8 427.5h.01M227.8 431.7h.01M226.2 435.7h.01M223.3 458.9h.01M230.9 423.8h.01M221.9 440.4h.01M227.7 431.6h.01M225.9 441.2h.01M223.9 444.4h.01M229.5 439.9h.01M221.3 440.0h.01M224.9 440.7h.01M224.2 431.8h.01M229.2 436.3h.01M227.2 421.4h.01M227.5 434.6h.01M229.4 430.7h.01M220.8 434.7h.01M227.6 445.7h.01M223.3 441.5h.01M225.1 442.6h.01M224.8 449.0h.01M233.3 414.9h.01M229.1 442.8h.01M233.8 438.8h.01M227.6 437.2h.01M226.7 424.9h.01M224.0 443.3h.01M227.8 449.8h.01M231.7 449.2h.01M228.3 437.4h.01M223.6 444.1h.01M226.6 447.4h.01M225.3 456.3h.01M225.2 450.3h.01M223.6 439.1h.01M216.6 437.6h.01M224.4 439.4h.01M230.7 440.9h.01M228.3 433.2h.01M216.9 444.5h.01M227.8 431.2h.01M220.6 429.1h.01M234.2 442.7h.01M228.4 432.5h.01M222.3 435.0h.01M232.9 417.9h.01M222.6 445.5h.01M229.0 438.3h.01M227.1 436.8h.01M221.5 442.0h.01M229.1 440.5h.01M222.4 430.3h.01M229.3 458.7h.01M227.7 433.6h.01M221.3 447.1h.01M217.0 455.2h.01M234.1 432.8h.01M232.4 439.8h.01M222.9 429.2h.01M231.9 449.4h.01M227.9 434.8h.01M227.4 427.0h.01M224.6 451.0h.01M224.4 447.0h.01M233.7 430.0h.01M225.7 449.9h.01M219.2 438.9h.01M231.3 466.1h.01M227.9 455.5h.01M223.2 431.9h.01M225.8 435.2h.01M224.4 428.8h.01M226.8 439.4h.01M228.3 438.7h.01M226.7 445.5h.01M224.3 438.5h.01M225.7 423.0h.01M231.3 430.4h.01M224.4 452.0h.01M234.1 450.7h.01M223.8 436.0h.01M230.1 437.1h.01M227.2 436.4h.01M223.7 437.8h.01M234.6 422.1h.01M226.0 447.0h.01M224.2 431.0h.01M225.3 439.3h.01M234.4 413.5h.01M221.6 439.6h.01M230.4 452.1h.01M232.6 416.2h.01M223.6 452.9h.01M231.5 443.5h.01M234.8 431.7h.01M231.4 422.6h.01M225.9 449.6h.01M233.8 441.6h.01M231.9 444.7h.01M223.5 434.8h.01M227.1 430.0h.01M224.7 446.5h.01M226.5 428.3h.01M219.6 446.1h.01M232.7 421.9h.01M228.4 428.9h.01M229.2 423.6h.01M230.6 451.8h.01M227.0 420.3h.01M228.2 426.7h.01M227.0 444.7h.01M224.8 440.0h.01M223.3 459.7h.01M227.3 456.7h.01M225.9 444.1h.01M231.2 445.6h.01M226.4 419.4h.01M228.8 429.4h.01M221.6 433.9h.01M226.6 436.2h.01M225.9 423.9h.01M233.5 429.5h.01M231.0 430.0h.01M227.4 448.8h.01M233.6 443.3h.01M233.0 435.5h.01M230.1 435.7h.01M223.6 440.5h.01M222.0 430.2h.01M227.0 435.4h.01M227.8 420.7h.01M223.3 444.3h.01M224.3 447.4h.01M219.7 440.7h.01M232.1 443.6h.01M221.7 441.0h.01M221.3 457.9h.01M228.8 440.3h.01M222.1 423.9h.01M232.0 428.1h.01M229.6 445.6h.01M224.1 448.4h.01M221.4 445.1h.01M223.7 446.1h.01M219.1 438.8h.01M234.5 424.0h.01M228.0 431.0h.01M226.4 419.6h.01M223.7 433.6h.01M231.0 424.7h.01M232.7 439.8h.01M221.9 435.6h.01M227.2 418.2h.01M218.7 444.3h.01M228.5 445.9h.01M229.4 424.2h.01M235.7 440.7h.01M225.3 445.0h.01M225.5 434.8h.01M222.8 446.1h.01M230.0 440.3h.01M218.7 447.7h.01M229.6 440.2h.01M228.0 436.4h.01M224.1 442.7h.01M222.1 445.2h.01M230.7 441.0h.01M234.9 434.5h.01M226.1 429.8h.01M229.5 434.5h.01M234.6 433.2h.01M224.0 439.6h.01M225.6 439.4h.01M222.0 436.3h.01M226.2 437.8h.01M226.2 439.6h.01M222.9 453.3h.01M222.1 449.5h.01M221.2 431.2h.01M220.8 441.3h.01M223.3 434.0h.01M229.5 437.3h.01M225.1 435.1h.01M224.3 431.1h.01M231.4 424.6h.01M232.6 413.5h.01M223.5 439.4h.01M222.6 449.3h.01M230.8 429.1h.01M227.6 443.1h.01M224.0 433.5h.01M227.4 440.8h.01M227.8 429.7h.01M231.7 436.1h.01M223.5 436.2h.01M233.8 414.5h.01M228.3 440.2h.01M222.9 435.9h.01M234.6 413.5h.01M229.6 444.8h.01M221.5 436.7h.01M234.6 441.0h.01M221.7 440.8h.01M223.7 433.1h.01M227.0 426.8h.01M230.6 433.8h.01M229.8 433.8h.01M223.3 460.0h.01M229.8 457.1h.01M229.2 433.1h.01M233.1 434.4h.01M237.8 442.6h.01M226.8 443.5h.01M217.3 429.3h.01M226.4 427.4h.01M219.7 456.6h.01M225.7 448.4h.01M229.4 422.2h.01M224.3 419.3h.01M223.3 428.8h.01M225.4 439.8h.01M225.3 443.1h.01M216.7 432.8h.01M233.1 422.0h.01M226.7 439.9h.01M225.9 443.8h.01M228.1 437.9h.01M223.3 432.1h.01M225.8 443.5h.01M231.2 437.7h.01M232.9 427.0h.01M228.6 438.9h.01M227.5 424.5h.01M222.1 446.9h.01M231.6 443.2h.01M230.4 427.9h.01M224.8 439.6h.01M216.1 449.1h.01M226.3 415.5h.01M219.1 435.2h.01M229.7 455.1h.01M229.8 422.1h.01M224.0 435.6h.01M227.7 423.1h.01M237.7 438.5h.01M235.3 414.1h.01M223.6 420.5h.01M227.1 432.2h.01M221.5 438.4h.01M219.1 440.5h.01M227.0 442.1h.01M235.2 450.7h.01M232.3 445.7h.01M226.0 445.2h.01M226.7 427.5h.01M227.9 436.2h.01M226.6 470.6h.01M217.5 459.9h.01M217.9 445.0h.01M233.6 446.3h.01M226.6 447.9h.01M234.1 434.5h.01M225.0 457.8h.01M233.6 434.7h.01M224.4 436.5h.01M225.8 460.1h.01M236.3 417.4h.01M230.6 442.0h.01M227.4 419.9h.01M231.5 431.6h.01M224.2 436.4h.01M221.4 433.3h.01M228.8 439.8h.01M233.8 430.7h.01M230.6 437.1h.01M223.3 424.8h.01M231.1 434.2h.01M231.7 423.9h.01M224.0 444.1h.01M218.2 423.0h.01M230.1 445.4h.01M231.2 434.0h.01M229.4 434.9h.01M217.8 448.7h.01M220.4 437.9h.01M233.8 418.9h.01M229.5 443.3h.01M233.1 408.2h.01M225.4 440.3h.01M229.1 433.8h.01M226.6 423.0h.01M225.4 438.3h.01M223.6 434.0h.01M225.0 458.4h.01M225.7 432.9h.01M228.1 458.2h.01M227.9 452.3h.01M224.3 430.9h.01M235.8 430.4h.01M220.2 450.6h.01M228.9 436.6h.01M231.2 440.0h.01M232.6 435.8h.01M219.2 423.9h.01M231.6 434.4h.01M233.4 428.5h.01M235.2 422.8h.01M217.8 433.3h.01M221.4 455.7h.01M224.1 454.3h.01M225.0 436.8h.01M232.3 439.9h.01M223.2 442.6h.01M230.1 452.5h.01M228.8 441.3h.01M221.4 431.9h.01M223.2 433.1h.01M223.2 449.1h.01M223.5 464.6h.01M232.0 431.8h.01M229.0 416.4h.01M229.5 446.6h.01M220.3 436.0h.01M213.7 437.3h.01M223.6 450.3h.01M228.7 438.7h.01M227.2 423.8h.01M225.4 416.8h.01M228.7 437.5h.01M236.8 426.9h.01M226.0 440.6h.01M225.6 424.1h.01M223.8 433.5h.01M237.4 423.6h.01M227.2 433.9h.01M230.1 433.4h.01M231.2 444.6h.01M229.5 452.3h.01M223.2 435.2h.01M232.2 429.3h.01M227.6 458.5h.01M228.4 441.8h.01M230.2 444.6h.01M223.6 443.7h.01M224.4 452.7h.01M223.1 447.9h.01M229.1 445.2h.01M222.9 445.3h.01M229.8 429.1h.01M223.1 430.8h.01M226.5 436.5h.01M225.2 438.5h.01M226.3 437.8h.01M227.0 441.0h.01M226.0 437.9h.01M226.5 433.2h.01M220.4 419.7h.01M230.3 447.1h.01M223.3 443.5h.01M227.1 428.5h.01M222.6 442.4h.01M230.5 442.4h.01M222.9 437.9h.01M231.7 419.0h.01M233.6 425.9h.01M234.7 432.5h.01M229.5 455.2h.01M230.7 429.2h.01M222.2 433.4h.01M234.0 427.0h.01M232.6 433.3h.01M229.9 441.8h.01M233.3 416.7h.01M231.3 408.3h.01M223.7 444.3h.01M231.4 438.7h.01M233.2 432.2h.01M221.0 447.2h.01M229.3 448.4h.01M231.0 416.1h.01M230.9 436.5h.01M226.4 449.4h.01M232.6 431.5h.01M231.7 435.1h.01M229.3 448.2h.01M221.4 434.1h.01M232.1 425.8h.01M228.1 430.6h.01M224.0 423.3h.01M229.1 443.9h.01M223.6 419.0h.01M229.2 448.7h.01M236.5 421.7h.01M224.7 437.9h.01M232.9 423.0h.01M229.3 434.7h.01M228.2 448.7h.01M219.6 448.6h.01M227.6 451.7h.01M227.6 436.9h.01M229.9 439.3h.01M226.6 440.2h.01M230.7 444.8h.01M228.7 433.8h.01M228.2 449.6h.01M232.2 441.9h.01M226.0 449.7h.01M230.4 443.3h.01M226.9 444.9h.01M230.2 430.5h.01M225.3 433.1h.01M232.1 424.8h.01M232.6 435.4h.01M226.9 435.9h.01M229.1 446.9h.01M230.6 424.9h.01M217.6 470.7h.01M228.6 436.7h.01M230.7 451.6h.01M223.4 448.3h.01M223.2 410.5h.01M228.2 435.1h.01M222.1 452.7h.01M238.5 413.7h.01M225.7 445.7h.01M228.3 428.2h.01M225.0 432.5h.01M227.7 440.2h.01M227.3 418.0h.01M222.9 439.2h.01M227.7 431.0h.01M224.7 429.5h.01M231.5 445.8h.01M217.0 473.5h.01M226.2 441.3h.01M223.3 443.1h.01M221.3 436.4h.01M235.0 431.2h.01M217.8 439.2h.01M230.9 454.4h.01M220.8 438.9h.01M226.1 447.0h.01M236.8 436.7h.01M214.4 462.7h.01M223.7 419.8h.01M231.6 444.6h.01M226.9 443.5h.01M224.3 440.2h.01M228.5 426.1h.01M224.6 425.3h.01M227.8 435.3h.01M233.1 439.6h.01M227.2 424.9h.01M229.1 426.7h.01M231.2 444.2h.01M233.8 449.6h.01M225.4 431.5h.01M229.3 430.6h.01M225.7 429.8h.01M220.7 463.1h.01M224.6 442.5h.01M224.5 436.6h.01M218.3 447.1h.01M215.3 460.4h.01M222.2 449.4h.01M229.6 422.9h.01M232.2 437.5h.01M225.4 433.1h.01M226.8 434.0h.01M231.5 425.4h.01M230.7 434.0h.01M228.1 426.3h.01M226.3 441.1h.01M234.8 439.2h.01M227.7 422.7h.01M227.5 419.6h.01M220.9 431.7h.01M227.9 444.7h.01M225.2 442.6h.01M235.1 438.0h.01M230.4 403.0h.01M231.1 432.9h.01M232.0 430.4h.01M234.4 435.1h.01M223.3 424.1h.01M234.2 434.0h.01M228.0 430.7h.01M222.6 465.8h.01M224.7 444.8h.01M225.6 435.4h.01M225.6 436.9h.01M217.5 435.0h.01M228.9 439.9h.01M227.9 433.4h.01M223.1 436.9h.01M225.2 448.3h.01M235.4 447.6h.01M228.1 441.0h.01M223.4 451.3h.01M233.8 440.9h.01M225.1 426.9h.01M228.9 419.3h.01M225.7 430.0h.01M226.1 436.8h.01M229.5 442.2h.01M227.8 449.2h.01M224.8 431.2h.01M227.6 429.1h.01M226.2 445.7h.01M223.6 449.6h.01M227.6 432.6h.01M223.5 440.7h.01M221.9 451.5h.01M226.7 441.0h.01M222.8 436.4h.01M231.8 416.2h.01M224.3 451.3h.01M222.2 443.8h.01M224.3 438.6h.01M225.7 432.5h.01M228.2 424.5h.01M227.6 436.6h.01M226.3 436.4h.01M221.8 448.5h.01M234.7 425.8h.01M228.6 453.2h.01M227.4 438.0h.01M229.2 450.5h.01M229.8 427.7h.01M225.4 441.1h.01M225.6 450.4h.01M237.9 440.3h.01M233.3 422.9h.01M231.8 434.8h.01M224.6 443.0h.01M231.5 423.4h.01M238.4 423.9h.01M228.4 440.3h.01M232.8 428.3h.01M231.2 445.4h.01M231.4 425.7h.01M236.2 419.4h.01M229.1 429.6h.01M226.9 453.4h.01M225.7 428.2h.01M237.9 439.1h.01M227.9 440.4h.01M228.8 427.8h.01M231.1 449.8h.01M224.7 439.2h.01M226.3 442.2h.01M226.2 419.6h.01M229.6 419.4h.01M229.4 408.7h.01M229.5 436.0h.01M226.8 435.2h.01M223.4 444.8h.01M223.6 452.9h.01M226.9 434.9h.01M225.3 434.5h.01M230.2 442.9h.01M227.5 453.9h.01M228.8 429.1h.01M221.2 443.5h.01M229.5 435.4h.01M222.2 433.4h.01M226.5 446.2h.01M228.3 429.4h.01M226.1 426.2h.01M222.6 444.1h.01M224.1 437.0h.01M235.8 436.1h.01M226.1 436.1h.01M225.4 442.7h.01M231.5 434.3h.01M227.6 445.8h.01M230.7 442.6h.01M219.8 452.4h.01M220.6 450.2h.01M239.4 448.5h.01M227.1 435.5h.01M225.6 438.7h.01M228.5 431.6h.01M226.9 467.9h.01M222.4 434.7h.01M227.3 443.6h.01M224.9 451.8h.01M231.7 423.9h.01M228.9 429.2h.01M225.4 433.2h.01M224.9 426.8h.01M218.8 423.1h.01M231.7 432.9h.01M219.0 450.3h.01M224.2 445.0h.01M233.7 439.0h.01M225.2 437.7h.01M231.9 420.7h.01M225.1 444.8h.01M229.2 442.5h.01M228.7 426.4h.01M224.6 439.5h.01M232.8 436.5h.01M226.6 432.1h.01M222.9 426.6h.01M226.6 430.5h.01M230.5 428.2h.01M221.7 441.8h.01M229.6 441.9h.01M229.6 441.5h.01M235.9 437.0h.01M224.9 433.1h.01M226.7 459.3h.01M222.8 417.4h.01M223.5 449.9h.01M226.9 441.4h.01M228.5 438.7h.01M227.5 432.4h.01M226.9 435.4h.01M226.2 425.0h.01M227.2 423.0h.01M228.4 436.7h.01M231.7 420.8h.01M228.3 446.8h.01M229.4 449.9h.01M236.8 402.6h.01M221.9 420.5h.01M224.4 440.2h.01M226.0 439.8h.01M224.2 438.5h.01M230.6 442.7h.01M228.9 445.9h.01M225.2 446.7h.01M224.8 456.4h.01M232.1 438.7h.01M224.3 446.5h.01M228.0 420.7h.01M230.8 436.9h.01M230.6 425.3h.01M230.7 453.0h.01M225.0 462.2h.01M229.2 443.8h.01M226.6 423.9h.01M223.3 436.0h.01M226.9 438.0h.01M215.8 438.3h.01M227.0 449.3h.01M229.5 448.2h.01M231.1 410.2h.01M224.0 451.8h.01M232.1 433.2h.01M227.6 431.9h.01M228.9 453.1h.01M236.3 436.2h.01M231.9 423.9h.01M232.7 424.5h.01M228.9 438.6h.01M226.6 447.3h.01M225.9 453.5h.01M227.5 436.0h.01M232.0 433.5h.01M218.0 453.7h.01M226.5 432.9h.01M227.5 453.3h.01M223.2 439.7h.01M226.2 440.2h.01M224.5 434.9h.01M228.3 441.1h.01M231.1 433.4h.01M233.9 431.5h.01M229.2 436.7h.01M225.0 430.6h.01M227.5 441.1h.01M229.1 439.0h.01M233.1 435.9h.01M218.5 434.5h.01M228.8 435.6h.01M217.0 454.8h.01M229.9 438.1h.01M229.6 431.9h.01M229.4 435.0h.01M229.6 445.2h.01M228.8 435.9h.01M224.5 435.8h.01M228.8 435.3h.01M231.6 440.2h.01M225.9 441.8h.01M226.4 442.4h.01M224.4 420.1h.01M233.2 427.3h.01M228.7 410.2h.01M222.8 445.7h.01M223.5 449.0h.01M221.5 450.8h.01M225.7 439.1h.01M230.5 450.4h.01M230.2 437.8h.01M232.9 437.3h.01M235.2 422.6h.01M224.4 429.1h.01M229.8 431.9h.01M226.3 456.3h.01M231.1 460.9h.01M221.0 455.3h.01M225.6 458.8h.01M224.9 458.2h.01M220.8 457.4h.01M219.1 460.8h.01M219.9 455.2h.01M219.2 458.8h.01M221.9 456.0h.01M224.5 460.4h.01M222.8 457.1h.01M220.4 451.9h.01M224.2 455.1h.01M220.6 458.1h.01M224.4 452.4h.01M221.1 464.8h.01M224.4 458.8h.01M226.2 460.1h.01M219.8 455.2h.01M218.1 457.8h.01M227.2 460.4h.01M218.9 452.4h.01M226.5 457.6h.01M225.9 456.5h.01M222.6 455.2h.01M223.7 457.6h.01M224.4 451.6h.01M225.0 457.6h.01M218.5 453.6h.01M221.6 451.9h.01M227.7 462.1h.01M222.8 454.1h.01M220.1 448.5h.01M224.9 461.3h.01M221.7 454.3h.01M214.2 444.4h.01M219.3 458.9h.01M228.5 459.4h.01M222.3 459.5h.01M227.4 463.8h.01M218.9 458.7h.01M225.1 459.4h.01M219.2 454.3h.01M232.4 453.9h.01M223.4 464.7h.01M221.7 460.5h.01M226.5 456.6h.01M223.1 447.8h.01M216.7 458.6h.01M221.8 451.7h.01M227.5 459.2h.01M218.6 455.9h.01M226.2 457.8h.01M220.1 453.9h.01M224.2 466.1h.01M220.3 453.0h.01M222.4 458.4h.01M224.4 469.6h.01M230.4 455.1h.01M220.6 454.3h.01M222.5 460.7h.01M227.8 460.1h.01M224.9 460.8h.01M223.7 447.5h.01M223.1 458.5h.01M220.5 448.2h.01M227.3 464.7h.01M224.1 457.3h.01M222.0 455.7h.01M224.5 460.1h.01M229.2 456.9h.01M219.3 453.4h.01M225.0 464.5h.01M222.1 456.7h.01M221.9 449.4h.01M227.3 462.3h.01M229.1 462.1h.01M222.0 464.1h.01M225.3 459.1h.01M221.3 453.9h.01M224.4 461.4h.01M227.5 464.5h.01M219.4 463.2h.01M227.3 463.3h.01M222.5 453.9h.01M221.3 463.3h.01M225.0 461.1h.01M225.2 449.2h.01M219.3 451.2h.01M223.9 453.5h.01M223.0 457.9h.01M222.0 460.2h.01M220.4 457.6h.01M222.2 457.5h.01M227.0 455.0h.01M226.0 456.5h.01M222.6 460.6h.01M227.3 457.9h.01M223.0 457.2h.01M222.0 459.2h.01M223.9 454.9h.01M222.4 461.7h.01M218.1 457.3h.01M230.3 462.2h.01M218.2 459.6h.01M225.6 457.6h.01M217.7 456.2h.01M222.8 455.9h.01M223.3 458.2h.01M222.3 457.9h.01M216.1 457.7h.01M221.0 452.7h.01M223.5 457.5h.01M221.2 459.1h.01M224.4 459.6h.01M228.7 461.0h.01M220.9 457.0h.01M220.5 448.8h.01M220.0 458.2h.01M221.1 449.3h.01M222.9 451.2h.01M232.6 458.1h.01M227.2 458.3h.01M223.6 454.1h.01M226.4 452.8h.01M220.5 458.2h.01M223.3 448.7h.01M222.9 459.9h.01M221.1 456.7h.01M230.1 463.3h.01M222.2 452.6h.01M229.2 459.6h.01M218.1 456.4h.01M226.2 461.0h.01M220.2 454.0h.01M224.2 460.6h.01M217.3 458.0h.01M224.7 452.7h.01M223.9 456.4h.01M221.6 460.5h.01M220.5 460.7h.01M224.0 464.8h.01M229.1 458.7h.01M218.3 446.7h.01M221.8 456.1h.01M221.2 448.5h.01M222.9 455.7h.01M225.4 459.5h.01M223.1 450.8h.01M222.3 452.0h.01M226.3 456.7h.01M219.6 457.7h.01M226.7 463.6h.01M223.2 459.0h.01M224.9 459.3h.01M226.8 464.4h.01M220.8 456.1h.01M222.6 457.7h.01M224.4 452.0h.01M222.5 459.0h.01M222.0 463.1h.01M227.9 462.0h.01M226.3 455.8h.01M221.5 454.7h.01M222.5 454.0h.01M218.6 452.7h.01M223.2 458.0h.01M229.3 461.3h.01M221.4 446.5h.01M219.9 448.2h.01M225.5 463.3h.01M215.9 452.9h.01M225.1 458.2h.01M222.5 451.5h.01M228.1 459.0h.01M230.8 457.8h.01M225.0 457.4h.01M227.9 459.3h.01M220.5 458.9h.01M228.1 458.0h.01M229.5 463.5h.01M229.6 459.9h.01M224.3 453.7h.01M223.4 453.4h.01M227.4 454.3h.01M221.3 457.2h.01M225.6 456.7h.01M225.6 453.4h.01M222.6 461.0h.01M220.4 458.9h.01M225.6 458.2h.01M224.0 457.1h.01M226.5 459.0h.01M223.2 451.5h.01M224.5 464.7h.01M225.3 458.2h.01M227.7 457.6h.01M223.8 460.2h.01M224.9 462.1h.01M221.9 461.8h.01M226.4 457.2h.01M228.8 454.0h.01M216.7 452.4h.01M226.2 457.1h.01M225.6 454.8h.01M221.5 456.7h.01M227.2 467.6h.01M217.2 451.1h.01M221.6 458.5h.01M226.5 462.0h.01M227.4 460.3h.01M226.4 462.2h.01M223.7 451.0h.01M222.4 453.1h.01M221.6 461.4h.01M227.2 454.2h.01M230.3 462.7h.01M222.1 459.2h.01M229.1 455.8h.01M225.9 458.5h.01M223.6 456.0h.01M229.4 455.3h.01M215.4 457.8h.01M219.1 459.3h.01M224.8 454.4h.01M223.5 458.7h.01M218.3 452.8h.01M225.1 449.2h.01M226.0 458.5h.01M220.5 459.9h.01M220.0 454.2h.01M225.7 455.3h.01M226.8 450.7h.01M221.9 468.3h.01M221.5 450.6h.01M225.9 464.8h.01M217.2 456.3h.01M224.1 459.2h.01M218.7 458.4h.01M221.5 456.5h.01M230.1 459.0h.01M226.7 460.0h.01M225.4 455.1h.01M223.7 452.8h.01M228.7 465.3h.01M229.2 461.8h.01M220.7 459.4h.01M222.2 456.6h.01M226.7 457.4h.01M221.9 458.6h.01M224.8 462.8h.01M225.3 451.8h.01M228.1 455.4h.01M220.6 454.9h.01M223.9 463.7h.01M228.9 463.9h.01M224.4 456.6h.01M222.9 460.4h.01M228.1 462.3h.01M224.8 455.4h.01M222.2 453.4h.01M234.1 457.7h.01M228.6 457.6h.01M225.7 455.4h.01M229.5 461.9h.01M232.6 454.4h.01M223.5 448.6h.01M222.4 459.7h.01M224.6 456.7h.01M227.6 464.9h.01M222.2 458.0h.01M224.1 456.1h.01M225.3 458.8h.01M224.1 458.4h.01M219.7 452.2h.01M226.4 456.7h.01M218.6 458.1h.01M228.8 462.0h.01M228.4 467.1h.01M222.4 452.4h.01M215.2 456.5h.01M227.0 451.7h.01M217.6 456.9h.01M220.0 455.6h.01M225.7 456.7h.01M224.2 462.6h.01M220.2 452.6h.01M214.5 454.0h.01M219.1 450.4h.01M226.5 461.5h.01M228.2 461.8h.01M220.1 451.4h.01M221.3 450.4h.01M225.3 457.3h.01M224.0 462.7h.01M223.6 462.5h.01M229.7 455.5h.01M222.7 461.2h.01M227.9 457.0h.01M224.3 435.4h.01M244.0 449.2h.01M228.7 447.7h.01M219.9 419.0h.01M225.0 448.8h.01M216.4 438.5h.01M228.9 458.0h.01M237.5 458.2h.01M218.6 432.4h.01M237.8 432.9h.01M245.5 443.5h.01M231.8 449.6h.01M219.5 435.5h.01M221.9 439.4h.01M226.1 449.0h.01M218.5 446.5h.01M218.8 456.3h.01M226.7 444.1h.01M227.3 429.2h.01M233.6 417.5h.01M219.2 451.7h.01M243.7 436.5h.01M237.3 436.3h.01M235.9 437.1h.01M223.5 420.0h.01M242.7 435.7h.01M226.0 406.3h.01M243.3 435.5h.01M237.3 429.0h.01M221.6 465.3h.01M225.1 446.8h.01M243.7 438.0h.01M236.8 443.0h.01M227.5 450.6h.01M230.4 430.8h.01M230.4 437.8h.01M222.6 436.2h.01M227.2 473.9h.01M223.5 441.8h.01M225.3 414.7h.01M232.5 451.5h.01M234.6 428.1h.01M234.9 440.0h.01M235.9 454.2h.01M238.7 433.3h.01M233.8 437.3h.01M234.4 424.4h.01M227.3 426.7h.01M233.3 412.2h.01M221.5 456.1h.01M226.8 425.5h.01M234.8 445.8h.01M228.3 445.2h.01M232.3 432.2h.01M220.3 441.5h.01M239.7 439.6h.01M224.1 434.2h.01M231.9 441.5h.01M228.6 441.5h.01M236.2 427.2h.01M225.7 423.5h.01M220.7 429.5h.01M213.5 442.4h.01M226.3 459.3h.01M219.2 460.5h.01M233.0 445.0h.01M240.3 453.5h.01M210.9 442.4h.01M218.4 455.6h.01M231.2 442.5h.01M238.7 446.0h.01M231.2 437.0h.01M231.4 440.7h.01M232.8 466.2h.01M233.4 424.7h.01M241.9 440.8h.01M233.7 432.8h.01M218.8 453.6h.01M225.0 465.1h.01M230.4 436.6h.01M222.2 403.5h.01M226.7 449.0h.01M224.5 449.0h.01M223.1 418.1h.01M234.3 437.5h.01M225.6 439.8h.01M220.0 409.7h.01M223.0 449.8h.01M229.1 446.6h.01M245.7 443.9h.01M230.8 426.5h.01M240.7 431.1h.01M232.7 432.2h.01M211.5 447.2h.01M231.8 427.5h.01M221.9 460.4h.01M217.9 445.8h.01M220.1 411.4h.01M243.1 463.4h.01M216.1 442.8h.01M223.8 433.3h.01M238.1 442.1h.01M234.1 416.1h.01M215.0 443.2h.01M227.9 407.5h.01M224.6 426.9h.01M227.2 458.9h.01M234.8 457.7h.01M224.1 436.0h.01M226.2 427.6h.01M240.5 453.2h.01M213.9 440.0h.01M225.7 443.5h.01M232.5 449.1h.01M218.7 426.1h.01M223.7 451.3h.01M218.2 412.0h.01M230.0 460.4h.01M223.7 419.4h.01M235.1 432.1h.01M237.0 431.6h.01M229.1 450.4h.01M225.7 450.7h.01M230.8 445.4h.01M229.2 447.9h.01M218.9 446.9h.01M237.4 439.6h.01M230.5 414.7h.01M235.1 409.4h.01M217.8 409.4h.01M235.8 439.9h.01M245.7 437.5h.01M233.7 438.6h.01M217.0 443.6h.01M229.0 437.3h.01M228.2 427.0h.01M230.5 420.2h.01M226.8 414.8h.01M232.7 457.0h.01M225.0 452.8h.01M230.6 422.1h.01M223.2 436.8h.01M229.5 446.5h.01M236.7 462.1h.01M224.8 432.3h.01M234.1 442.8h.01M221.5 456.2h.01M225.7 416.9h.01M226.8 430.5h.01M238.8 439.9h.01M222.5 430.7h.01M238.5 469.1h.01M216.9 452.2h.01M227.4 443.1h.01M236.1 427.4h.01M234.3 452.2h.01M220.5 449.0h.01M218.8 433.4h.01M235.8 434.5h.01M218.5 420.6h.01M233.4 439.4h.01M224.5 452.2h.01M228.6 454.0h.01M247.4 448.3h.01M241.2 451.6h.01M235.5 432.4h.01M217.6 434.0h.01M231.3 456.7h.01M229.1 446.5h.01M227.9 429.6h.01M239.5 447.2h.01M214.8 451.7h.01M231.2 450.0h.01M229.7 441.8h.01M222.6 433.4h.01M242.6 445.8h.01M218.4 463.4h.01M228.9 442.4h.01M229.3 431.3h.01M210.9 445.0h.01M217.1 423.6h.01M220.8 443.5h.01M235.0 436.3h.01M236.3 453.3h.01M233.5 441.7h.01M230.6 454.6h.01M210.9 471.5h.01M230.4 437.4h.01M224.5 429.0h.01M238.1 446.6h.01M239.5 439.1h.01M246.8 442.2h.01M234.4 432.2h.01M235.2 447.9h.01M220.3 441.3h.01M229.3 411.1h.01M218.6 437.1h.01M235.9 444.8h.01M219.0 456.3h.01M226.9 432.5h.01M222.0 429.4h.01M224.8 455.9h.01M232.3 432.1h.01M224.1 441.7h.01M230.4 446.7h.01M220.5 450.3h.01M239.9 440.4h.01M223.4 425.3h.01M236.8 454.0h.01M245.9 434.4h.01M208.9 433.2h.01M220.6 467.4h.01M226.9 452.2h.01M238.1 426.0h.01M224.7 433.8h.01M231.7 437.0h.01M222.7 430.2h.01M233.2 414.4h.01M218.7 451.1h.01M235.4 450.8h.01M204.3 443.6h.01M213.2 434.8h.01M243.4 443.1h.01M230.0 448.9h.01M221.3 426.2h.01M246.5 435.8h.01M237.1 432.7h.01M237.8 449.7h.01" stroke="#222" stroke-opacity="0.6" stroke-width="0.8" stroke-linecap="round" fill="none" filter="url(#bl)"/>
<rect x="193.7" y="397.2" width="82.1" height="77.6" fill="none" stroke="#3a3a3a" stroke-width="0.75"/>
<path d="M230.5 397.2V474.8M193.7 451.4H275.8" stroke="#444" stroke-width="0.7" fill="none"/>
<path d="M193.7 472.8h-1.6M196.9 474.8v1.6M193.7 470.4h-1.6M199.0 474.8v1.6M193.7 468.5h-1.6M200.6 474.8v1.6M193.7 466.9h-1.6M202.0 474.8v1.6M193.7 465.6h-1.6M203.3 474.8v1.6M193.7 464.5h-1.6M204.3 474.8v1.6M193.7 463.5h-1.6M205.3 474.8v2.6M193.7 462.6h-2.6M211.6 474.8v1.6M193.7 456.7h-1.6M215.3 474.8v1.6M193.7 453.3h-1.6M217.9 474.8v1.6M193.7 450.9h-1.6M220.0 474.8v1.6M193.7 449.0h-1.6M221.6 474.8v1.6M193.7 447.4h-1.6M223.0 474.8v1.6M193.7 446.1h-1.6M224.3 474.8v1.6M193.7 445.0h-1.6M225.3 474.8v1.6M193.7 444.0h-1.6M226.3 474.8v2.6M193.7 443.1h-2.6M232.6 474.8v1.6M193.7 437.2h-1.6M236.3 474.8v1.6M193.7 433.8h-1.6M238.9 474.8v1.6M193.7 431.4h-1.6M241.0 474.8v1.6M193.7 429.5h-1.6M242.6 474.8v1.6M193.7 427.9h-1.6M244.0 474.8v1.6M193.7 426.6h-1.6M245.3 474.8v1.6M193.7 425.5h-1.6M246.3 474.8v1.6M193.7 424.5h-1.6M247.3 474.8v2.6M193.7 423.6h-2.6M253.6 474.8v1.6M193.7 417.7h-1.6M257.3 474.8v1.6M193.7 414.3h-1.6M259.9 474.8v1.6M193.7 411.9h-1.6M262.0 474.8v1.6M193.7 410.0h-1.6M263.6 474.8v1.6M193.7 408.4h-1.6M265.0 474.8v1.6M193.7 407.1h-1.6M266.3 474.8v1.6M193.7 406.0h-1.6M267.3 474.8v1.6M193.7 405.0h-1.6M268.3 474.8v2.6M193.7 404.1h-2.6M274.6 474.8v1.6M193.7 398.2h-1.6" stroke="#333" stroke-width="0.55" fill="none"/>
<text x="205" y="481.1" text-anchor="middle" font-family='"Liberation Sans", sans-serif' font-size="3.8" fill="#333">10<tspan dy="-1.4" font-size="2.8">2</tspan></text>
<text transform="translate(190.8 463.8) rotate(-90)" text-anchor="middle" font-family='"Liberation Sans", sans-serif' font-size="3.8" fill="#333">10<tspan dy="-1.4" font-size="2.8">2</tspan></text>
<text x="226" y="481.1" text-anchor="middle" font-family='"Liberation Sans", sans-serif' font-size="3.8" fill="#333">10<tspan dy="-1.4" font-size="2.8">3</tspan></text>
<text transform="translate(190.8 444.3) rotate(-90)" text-anchor="middle" font-family='"Liberation Sans", sans-serif' font-size="3.8" fill="#333">10<tspan dy="-1.4" font-size="2.8">3</tspan></text>
<text x="247" y="481.1" text-anchor="middle" font-family='"Liberation Sans", sans-serif' font-size="3.8" fill="#333">10<tspan dy="-1.4" font-size="2.8">4</tspan></text>
<text transform="translate(190.8 424.8) rotate(-90)" text-anchor="middle" font-family='"Liberation Sans", sans-serif' font-size="3.8" fill="#333">10<tspan dy="-1.4" font-size="2.8">4</tspan></text>
<text x="268" y="481.1" text-anchor="middle" font-family='"Liberation Sans", sans-serif' font-size="3.8" fill="#333">10<tspan dy="-1.4" font-size="2.8">5</tspan></text>
<text transform="translate(190.8 405.3) rotate(-90)" text-anchor="middle" font-family='"Liberation Sans", sans-serif' font-size="3.8" fill="#333">10<tspan dy="-1.4" font-size="2.8">5</tspan></text>
<text x="243.2" y="442.6" text-anchor="middle" font-family='"Liberation Sans", sans-serif' font-size="4" fill="#222">Q2-3</text>
<text x="243.2" y="459" text-anchor="middle" font-family='"Liberation Sans", sans-serif' font-size="4" fill="#222">Q4-3</text>
<text x="209" y="416.2" text-anchor="middle" font-family='"Liberation Serif", serif' font-weight="bold" font-size="10.8">53.7</text>
<text x="259" y="416.2" text-anchor="middle" font-family='"Liberation Serif", serif' font-weight="bold" font-size="10.8">24.6</text>
<text x="258.7" y="469.3" text-anchor="middle" font-family='"Liberation Serif", serif' font-weight="bold" font-size="10.8">0.4</text>
<path d="M24.3 337.3V240.8" stroke="#000" stroke-width="0.8"/>
<path d="M24.3 236.8L21.6 242.8H27Z" fill="#000"/>
<path d="M164 337.8V240.8" stroke="#000" stroke-width="0.8"/>
<path d="M164 236.8L161.3 242.8H166.7Z" fill="#000"/>
<path d="M24.3 488.5V392" stroke="#000" stroke-width="0.8"/>
<path d="M24.3 388L21.6 394H27Z" fill="#000"/>
<path d="M164.2 488.5V392" stroke="#000" stroke-width="0.8"/>
<path d="M164.2 388L161.5 394H166.9Z" fill="#000"/>
<path d="M34.8 348.6H276" stroke="#000" stroke-width="0.8"/>
<path d="M280 348.6L274 345.9V351.3Z" fill="#000"/>
<path d="M34.8 498.6H276" stroke="#000" stroke-width="0.8"/>
<path d="M280 498.6L274 495.9V501.3Z" fill="#000"/>
<text transform="translate(19.2 311.5) rotate(-90) scale(1 1.1)" text-anchor="middle" font-family='"Liberation Serif", serif' font-size="14.5" stroke="#000" stroke-width="0.12">Isotype</text>
<text transform="translate(158.6 311.5) rotate(-90) scale(1 1.1)" text-anchor="middle" font-family='"Liberation Serif", serif' font-size="14.5" stroke="#000" stroke-width="0.12">Isotype</text>
<text transform="translate(19.1 468) rotate(-90) scale(1 1.1)" text-anchor="middle" font-family='"Liberation Serif", serif' font-size="14.5" stroke="#000" stroke-width="0.12">CD4</text>
<text transform="translate(158.8 467.2) rotate(-90) scale(1 1.1)" text-anchor="middle" font-family='"Liberation Serif", serif' font-size="14.5" stroke="#000" stroke-width="0.12">CD86</text>
<text x="34.5" y="364" font-family='"Liberation Serif", serif' font-size="14.5">Isotype</text>
<text x="34.5" y="514.5" font-family='"Liberation Serif", serif' font-size="14.5">IL-10</text>
</svg></body></html>
